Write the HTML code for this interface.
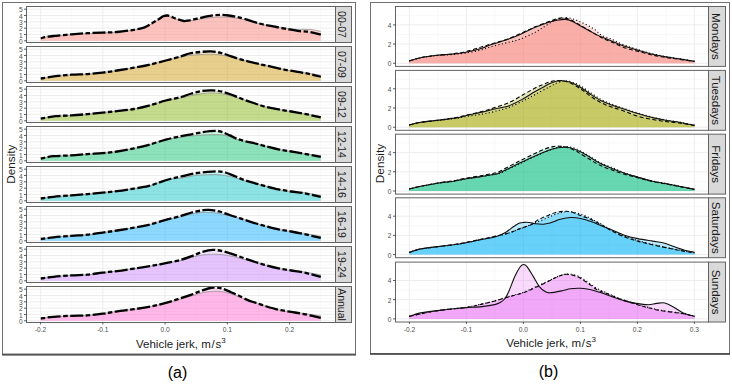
<!DOCTYPE html>
<html><head><meta charset="utf-8"><title>Vehicle jerk density</title>
<style>
html,body{margin:0;padding:0;background:#fff;}
body{width:732px;height:384px;overflow:hidden;font-family:"Liberation Sans", sans-serif;}
svg{display:block;}
</style></head><body>
<svg width="732" height="384" viewBox="0 0 732 384">
<rect x="0" y="0" width="732" height="384" fill="#fff"/>
<rect x="2.5" y="2.5" width="353" height="351.5" fill="none" stroke="#707070" stroke-width="1"/>
<line x1="2" y1="354.8" x2="356" y2="354.8" stroke="#303030" stroke-width="1.3"/>
<rect x="370.5" y="2.5" width="359" height="351" fill="none" stroke="#707070" stroke-width="1"/>
<line x1="370" y1="354.2" x2="730" y2="354.2" stroke="#303030" stroke-width="1.3"/>
<line x1="26.5" y1="37.64" x2="335.5" y2="37.64" stroke="#f4f4f4" stroke-width="0.6"/>
<line x1="26.5" y1="31.32" x2="335.5" y2="31.32" stroke="#f4f4f4" stroke-width="0.6"/>
<line x1="26.5" y1="25" x2="335.5" y2="25" stroke="#f4f4f4" stroke-width="0.6"/>
<line x1="26.5" y1="18.68" x2="335.5" y2="18.68" stroke="#f4f4f4" stroke-width="0.6"/>
<line x1="26.5" y1="12.36" x2="335.5" y2="12.36" stroke="#f4f4f4" stroke-width="0.6"/>
<line x1="71.72" y1="6.5" x2="71.72" y2="42.5" stroke="#f4f4f4" stroke-width="0.6"/>
<line x1="133.97" y1="6.5" x2="133.97" y2="42.5" stroke="#f4f4f4" stroke-width="0.6"/>
<line x1="196.22" y1="6.5" x2="196.22" y2="42.5" stroke="#f4f4f4" stroke-width="0.6"/>
<line x1="258.48" y1="6.5" x2="258.48" y2="42.5" stroke="#f4f4f4" stroke-width="0.6"/>
<line x1="320.73" y1="6.5" x2="320.73" y2="42.5" stroke="#f4f4f4" stroke-width="0.6"/>
<line x1="26.5" y1="40.8" x2="335.5" y2="40.8" stroke="#ebebeb" stroke-width="0.9"/>
<line x1="26.5" y1="34.48" x2="335.5" y2="34.48" stroke="#ebebeb" stroke-width="0.9"/>
<line x1="26.5" y1="28.16" x2="335.5" y2="28.16" stroke="#ebebeb" stroke-width="0.9"/>
<line x1="26.5" y1="21.84" x2="335.5" y2="21.84" stroke="#ebebeb" stroke-width="0.9"/>
<line x1="26.5" y1="15.52" x2="335.5" y2="15.52" stroke="#ebebeb" stroke-width="0.9"/>
<line x1="26.5" y1="9.2" x2="335.5" y2="9.2" stroke="#ebebeb" stroke-width="0.9"/>
<line x1="40.6" y1="6.5" x2="40.6" y2="42.5" stroke="#ebebeb" stroke-width="0.9"/>
<line x1="102.85" y1="6.5" x2="102.85" y2="42.5" stroke="#ebebeb" stroke-width="0.9"/>
<line x1="165.1" y1="6.5" x2="165.1" y2="42.5" stroke="#ebebeb" stroke-width="0.9"/>
<line x1="227.35" y1="6.5" x2="227.35" y2="42.5" stroke="#ebebeb" stroke-width="0.9"/>
<line x1="289.6" y1="6.5" x2="289.6" y2="42.5" stroke="#ebebeb" stroke-width="0.9"/>
<path d="M40.8,38.3C41.87,38.05 44.72,37.22 47.2,36.8C49.68,36.38 51.65,36.22 55.7,35.8C59.75,35.38 66.22,34.73 71.5,34.3C76.78,33.87 82.2,33.48 87.4,33.2C92.6,32.92 97.75,32.8 102.7,32.6C107.65,32.4 111.88,32.47 117.1,32C122.32,31.53 129.42,30.58 134,29.8C138.58,29.02 141.42,28.5 144.6,27.3C147.78,26.1 150.68,23.98 153.1,22.6C155.52,21.22 157.42,20.05 159.1,19C160.78,17.95 161.83,16.88 163.2,16.3C164.57,15.72 165.93,15.42 167.3,15.5C168.67,15.58 169.8,16.22 171.4,16.8C173,17.38 174.85,18.3 176.9,19C178.95,19.7 181.65,20.78 183.7,21C185.75,21.22 186.92,20.7 189.2,20.3C191.48,19.9 194.67,19.2 197.4,18.6C200.13,18 202.87,17.25 205.6,16.7C208.33,16.15 211.07,15.6 213.8,15.3C216.53,15 219.5,14.87 222,14.9C224.5,14.93 226.53,15.2 228.8,15.5C231.07,15.8 232.97,16.13 235.6,16.7C238.23,17.27 240.63,17.77 244.6,18.9C248.57,20.03 254.82,22.28 259.4,23.5C263.98,24.72 267.17,25.22 272.1,26.2C277.03,27.18 284.42,28.58 289,29.4C293.58,30.22 296.07,30.67 299.6,31.1C303.13,31.53 306.67,31.4 310.2,32C313.73,32.6 319.03,34.25 320.8,34.7L320.8,40.8L40.8,40.8Z" fill="#F8766D" fill-opacity="0.2"/>
<path d="M40.8,38.3C41.87,38.05 44.72,37.18 47.2,36.8C49.68,36.42 51.65,36.37 55.7,36C59.75,35.63 66.22,35.02 71.5,34.6C76.78,34.18 82.2,33.8 87.4,33.5C92.6,33.2 97.75,33.02 102.7,32.8C107.65,32.58 111.88,32.67 117.1,32.2C122.32,31.73 129.42,30.78 134,30C138.58,29.22 141.42,28.67 144.6,27.5C147.78,26.33 150.68,24.37 153.1,23C155.52,21.63 157.42,20.35 159.1,19.3C160.78,18.25 161.83,17.25 163.2,16.7C164.57,16.15 165.93,15.92 167.3,16C168.67,16.08 169.8,16.65 171.4,17.2C173,17.75 174.85,18.63 176.9,19.3C178.95,19.97 181.65,20.95 183.7,21.2C185.75,21.45 186.92,21.07 189.2,20.8C191.48,20.53 194.67,20.03 197.4,19.6C200.13,19.17 202.87,18.58 205.6,18.2C208.33,17.82 211.07,17.5 213.8,17.3C216.53,17.1 219.5,17 222,17C224.5,17 226.53,17.13 228.8,17.3C231.07,17.47 232.97,17.58 235.6,18C238.23,18.42 240.63,18.83 244.6,19.8C248.57,20.77 254.82,22.73 259.4,23.8C263.98,24.87 267.17,25.4 272.1,26.2C277.03,27 284.42,28.07 289,28.6C293.58,29.13 296.07,29.27 299.6,29.4C303.13,29.53 306.67,29.07 310.2,29.4C313.73,29.73 319.03,31.07 320.8,31.4L320.8,40.8L40.8,40.8Z" fill="#F8766D" fill-opacity="0.3"/>
<path d="M40.8,38.3C41.87,38.05 44.72,37.18 47.2,36.8C49.68,36.42 51.65,36.37 55.7,36C59.75,35.63 66.22,35.02 71.5,34.6C76.78,34.18 82.2,33.8 87.4,33.5C92.6,33.2 97.75,33.02 102.7,32.8C107.65,32.58 111.88,32.67 117.1,32.2C122.32,31.73 129.42,30.78 134,30C138.58,29.22 141.42,28.67 144.6,27.5C147.78,26.33 150.68,24.37 153.1,23C155.52,21.63 157.42,20.35 159.1,19.3C160.78,18.25 161.83,17.25 163.2,16.7C164.57,16.15 165.93,15.92 167.3,16C168.67,16.08 169.8,16.65 171.4,17.2C173,17.75 174.85,18.63 176.9,19.3C178.95,19.97 181.65,20.95 183.7,21.2C185.75,21.45 186.92,21.07 189.2,20.8C191.48,20.53 194.67,20.03 197.4,19.6C200.13,19.17 202.87,18.58 205.6,18.2C208.33,17.82 211.07,17.5 213.8,17.3C216.53,17.1 219.5,17 222,17C224.5,17 226.53,17.13 228.8,17.3C231.07,17.47 232.97,17.58 235.6,18C238.23,18.42 240.63,18.83 244.6,19.8C248.57,20.77 254.82,22.73 259.4,23.8C263.98,24.87 267.17,25.4 272.1,26.2C277.03,27 284.42,28.07 289,28.6C293.58,29.13 296.07,29.27 299.6,29.4C303.13,29.53 306.67,29.07 310.2,29.4C313.73,29.73 319.03,31.07 320.8,31.4" fill="none" stroke="#8a8a8a" stroke-width="0.7"/>
<path d="M40.8,38.3C41.87,38.05 44.72,37.22 47.2,36.8C49.68,36.38 51.65,36.22 55.7,35.8C59.75,35.38 66.22,34.73 71.5,34.3C76.78,33.87 82.2,33.48 87.4,33.2C92.6,32.92 97.75,32.8 102.7,32.6C107.65,32.4 111.88,32.47 117.1,32C122.32,31.53 129.42,30.58 134,29.8C138.58,29.02 141.42,28.5 144.6,27.3C147.78,26.1 150.68,23.98 153.1,22.6C155.52,21.22 157.42,20.05 159.1,19C160.78,17.95 161.83,16.88 163.2,16.3C164.57,15.72 165.93,15.42 167.3,15.5C168.67,15.58 169.8,16.22 171.4,16.8C173,17.38 174.85,18.3 176.9,19C178.95,19.7 181.65,20.78 183.7,21C185.75,21.22 186.92,20.7 189.2,20.3C191.48,19.9 194.67,19.2 197.4,18.6C200.13,18 202.87,17.25 205.6,16.7C208.33,16.15 211.07,15.6 213.8,15.3C216.53,15 219.5,14.87 222,14.9C224.5,14.93 226.53,15.2 228.8,15.5C231.07,15.8 232.97,16.13 235.6,16.7C238.23,17.27 240.63,17.77 244.6,18.9C248.57,20.03 254.82,22.28 259.4,23.5C263.98,24.72 267.17,25.22 272.1,26.2C277.03,27.18 284.42,28.58 289,29.4C293.58,30.22 296.07,30.67 299.6,31.1C303.13,31.53 306.67,31.4 310.2,32C313.73,32.6 319.03,34.25 320.8,34.7" fill="none" stroke="#000" stroke-width="2.3" stroke-dasharray="4.5 2.5 13 2.5"/>
<rect x="26.5" y="6.5" width="309" height="36" fill="none" stroke="#636363" stroke-width="1"/>
<rect x="335.5" y="6.5" width="16" height="36" fill="#d9d9d9" stroke="#636363" stroke-width="1"/>
<text x="0" y="0" transform="translate(343.5,24.5) rotate(90)" text-anchor="middle" font-family='"Liberation Sans", sans-serif' font-size="10.5" fill="#1a1a1a" dy="5.2">00-07</text>
<line x1="24" y1="40.8" x2="26.5" y2="40.8" stroke="#333" stroke-width="0.8"/>
<text x="22.6" y="43.9" text-anchor="end" font-family='"Liberation Sans", sans-serif' font-size="6.6" fill="#4d4d4d">0</text>
<line x1="24" y1="34.48" x2="26.5" y2="34.48" stroke="#333" stroke-width="0.8"/>
<text x="22.6" y="37.58" text-anchor="end" font-family='"Liberation Sans", sans-serif' font-size="6.6" fill="#4d4d4d">1</text>
<line x1="24" y1="28.16" x2="26.5" y2="28.16" stroke="#333" stroke-width="0.8"/>
<text x="22.6" y="31.26" text-anchor="end" font-family='"Liberation Sans", sans-serif' font-size="6.6" fill="#4d4d4d">2</text>
<line x1="24" y1="21.84" x2="26.5" y2="21.84" stroke="#333" stroke-width="0.8"/>
<text x="22.6" y="24.94" text-anchor="end" font-family='"Liberation Sans", sans-serif' font-size="6.6" fill="#4d4d4d">3</text>
<line x1="24" y1="15.52" x2="26.5" y2="15.52" stroke="#333" stroke-width="0.8"/>
<text x="22.6" y="18.62" text-anchor="end" font-family='"Liberation Sans", sans-serif' font-size="6.6" fill="#4d4d4d">4</text>
<line x1="24" y1="9.2" x2="26.5" y2="9.2" stroke="#333" stroke-width="0.8"/>
<text x="22.6" y="12.3" text-anchor="end" font-family='"Liberation Sans", sans-serif' font-size="6.6" fill="#4d4d4d">5</text>
<line x1="26.5" y1="77.64" x2="335.5" y2="77.64" stroke="#f4f4f4" stroke-width="0.6"/>
<line x1="26.5" y1="71.32" x2="335.5" y2="71.32" stroke="#f4f4f4" stroke-width="0.6"/>
<line x1="26.5" y1="65" x2="335.5" y2="65" stroke="#f4f4f4" stroke-width="0.6"/>
<line x1="26.5" y1="58.68" x2="335.5" y2="58.68" stroke="#f4f4f4" stroke-width="0.6"/>
<line x1="26.5" y1="52.36" x2="335.5" y2="52.36" stroke="#f4f4f4" stroke-width="0.6"/>
<line x1="71.72" y1="46.5" x2="71.72" y2="82.5" stroke="#f4f4f4" stroke-width="0.6"/>
<line x1="133.97" y1="46.5" x2="133.97" y2="82.5" stroke="#f4f4f4" stroke-width="0.6"/>
<line x1="196.22" y1="46.5" x2="196.22" y2="82.5" stroke="#f4f4f4" stroke-width="0.6"/>
<line x1="258.48" y1="46.5" x2="258.48" y2="82.5" stroke="#f4f4f4" stroke-width="0.6"/>
<line x1="320.73" y1="46.5" x2="320.73" y2="82.5" stroke="#f4f4f4" stroke-width="0.6"/>
<line x1="26.5" y1="80.8" x2="335.5" y2="80.8" stroke="#ebebeb" stroke-width="0.9"/>
<line x1="26.5" y1="74.48" x2="335.5" y2="74.48" stroke="#ebebeb" stroke-width="0.9"/>
<line x1="26.5" y1="68.16" x2="335.5" y2="68.16" stroke="#ebebeb" stroke-width="0.9"/>
<line x1="26.5" y1="61.84" x2="335.5" y2="61.84" stroke="#ebebeb" stroke-width="0.9"/>
<line x1="26.5" y1="55.52" x2="335.5" y2="55.52" stroke="#ebebeb" stroke-width="0.9"/>
<line x1="26.5" y1="49.2" x2="335.5" y2="49.2" stroke="#ebebeb" stroke-width="0.9"/>
<line x1="40.6" y1="46.5" x2="40.6" y2="82.5" stroke="#ebebeb" stroke-width="0.9"/>
<line x1="102.85" y1="46.5" x2="102.85" y2="82.5" stroke="#ebebeb" stroke-width="0.9"/>
<line x1="165.1" y1="46.5" x2="165.1" y2="82.5" stroke="#ebebeb" stroke-width="0.9"/>
<line x1="227.35" y1="46.5" x2="227.35" y2="82.5" stroke="#ebebeb" stroke-width="0.9"/>
<line x1="289.6" y1="46.5" x2="289.6" y2="82.5" stroke="#ebebeb" stroke-width="0.9"/>
<path d="M40.8,78.5C43.28,78.12 50.58,76.83 55.7,76.2C60.82,75.57 66.22,75.05 71.5,74.7C76.78,74.35 82.2,74.45 87.4,74.1C92.6,73.75 97.75,73.2 102.7,72.6C107.65,72 111.88,71.32 117.1,70.5C122.32,69.68 128.7,68.65 134,67.7C139.3,66.75 143.6,66 148.9,64.8C154.2,63.6 160.45,61.92 165.8,60.5C171.15,59.08 177.05,57.47 181,56.3C184.95,55.13 186.33,54.22 189.5,53.5C192.67,52.78 196.47,52.35 200,52C203.53,51.65 207.52,51.32 210.7,51.4C213.88,51.48 216.28,51.9 219.1,52.5C221.92,53.1 224.42,53.95 227.6,55C230.78,56.05 234.67,57.7 238.2,58.8C241.73,59.9 245.27,60.72 248.8,61.6C252.33,62.48 255.52,63.22 259.4,64.1C263.28,64.98 267.52,65.9 272.1,66.9C276.68,67.9 282.32,69.22 286.9,70.1C291.48,70.98 295.72,71.53 299.6,72.2C303.48,72.87 306.67,73.33 310.2,74.1C313.73,74.87 319.03,76.35 320.8,76.8L320.8,80.8L40.8,80.8Z" fill="#CD9600" fill-opacity="0.2"/>
<path d="M40.8,78.5C43.28,78.12 50.58,76.83 55.7,76.2C60.82,75.57 66.22,75.05 71.5,74.7C76.78,74.35 82.2,74.45 87.4,74.1C92.6,73.75 97.75,73.2 102.7,72.6C107.65,72 111.88,71.32 117.1,70.5C122.32,69.68 128.7,68.65 134,67.7C139.3,66.75 143.6,66 148.9,64.8C154.2,63.6 160.45,61.8 165.8,60.5C171.15,59.2 177.05,57.83 181,57C184.95,56.17 186.33,55.92 189.5,55.5C192.67,55.08 196.47,54.72 200,54.5C203.53,54.28 207.52,54.15 210.7,54.2C213.88,54.25 216.28,54.45 219.1,54.8C221.92,55.15 224.42,55.63 227.6,56.3C230.78,56.97 234.67,57.92 238.2,58.8C241.73,59.68 245.27,60.72 248.8,61.6C252.33,62.48 255.52,63.22 259.4,64.1C263.28,64.98 267.52,65.9 272.1,66.9C276.68,67.9 282.32,69.22 286.9,70.1C291.48,70.98 295.72,71.63 299.6,72.2C303.48,72.77 306.67,72.97 310.2,73.5C313.73,74.03 319.03,75.08 320.8,75.4L320.8,80.8L40.8,80.8Z" fill="#CD9600" fill-opacity="0.3"/>
<path d="M40.8,78.5C43.28,78.12 50.58,76.83 55.7,76.2C60.82,75.57 66.22,75.05 71.5,74.7C76.78,74.35 82.2,74.45 87.4,74.1C92.6,73.75 97.75,73.2 102.7,72.6C107.65,72 111.88,71.32 117.1,70.5C122.32,69.68 128.7,68.65 134,67.7C139.3,66.75 143.6,66 148.9,64.8C154.2,63.6 160.45,61.8 165.8,60.5C171.15,59.2 177.05,57.83 181,57C184.95,56.17 186.33,55.92 189.5,55.5C192.67,55.08 196.47,54.72 200,54.5C203.53,54.28 207.52,54.15 210.7,54.2C213.88,54.25 216.28,54.45 219.1,54.8C221.92,55.15 224.42,55.63 227.6,56.3C230.78,56.97 234.67,57.92 238.2,58.8C241.73,59.68 245.27,60.72 248.8,61.6C252.33,62.48 255.52,63.22 259.4,64.1C263.28,64.98 267.52,65.9 272.1,66.9C276.68,67.9 282.32,69.22 286.9,70.1C291.48,70.98 295.72,71.63 299.6,72.2C303.48,72.77 306.67,72.97 310.2,73.5C313.73,74.03 319.03,75.08 320.8,75.4" fill="none" stroke="#8a8a8a" stroke-width="0.7"/>
<path d="M40.8,78.5C43.28,78.12 50.58,76.83 55.7,76.2C60.82,75.57 66.22,75.05 71.5,74.7C76.78,74.35 82.2,74.45 87.4,74.1C92.6,73.75 97.75,73.2 102.7,72.6C107.65,72 111.88,71.32 117.1,70.5C122.32,69.68 128.7,68.65 134,67.7C139.3,66.75 143.6,66 148.9,64.8C154.2,63.6 160.45,61.92 165.8,60.5C171.15,59.08 177.05,57.47 181,56.3C184.95,55.13 186.33,54.22 189.5,53.5C192.67,52.78 196.47,52.35 200,52C203.53,51.65 207.52,51.32 210.7,51.4C213.88,51.48 216.28,51.9 219.1,52.5C221.92,53.1 224.42,53.95 227.6,55C230.78,56.05 234.67,57.7 238.2,58.8C241.73,59.9 245.27,60.72 248.8,61.6C252.33,62.48 255.52,63.22 259.4,64.1C263.28,64.98 267.52,65.9 272.1,66.9C276.68,67.9 282.32,69.22 286.9,70.1C291.48,70.98 295.72,71.53 299.6,72.2C303.48,72.87 306.67,73.33 310.2,74.1C313.73,74.87 319.03,76.35 320.8,76.8" fill="none" stroke="#000" stroke-width="2.3" stroke-dasharray="4.5 2.5 13 2.5"/>
<rect x="26.5" y="46.5" width="309" height="36" fill="none" stroke="#636363" stroke-width="1"/>
<rect x="335.5" y="46.5" width="16" height="36" fill="#d9d9d9" stroke="#636363" stroke-width="1"/>
<text x="0" y="0" transform="translate(343.5,64.5) rotate(90)" text-anchor="middle" font-family='"Liberation Sans", sans-serif' font-size="10.5" fill="#1a1a1a" dy="5.2">07-09</text>
<line x1="24" y1="80.8" x2="26.5" y2="80.8" stroke="#333" stroke-width="0.8"/>
<text x="22.6" y="83.9" text-anchor="end" font-family='"Liberation Sans", sans-serif' font-size="6.6" fill="#4d4d4d">0</text>
<line x1="24" y1="74.48" x2="26.5" y2="74.48" stroke="#333" stroke-width="0.8"/>
<text x="22.6" y="77.58" text-anchor="end" font-family='"Liberation Sans", sans-serif' font-size="6.6" fill="#4d4d4d">1</text>
<line x1="24" y1="68.16" x2="26.5" y2="68.16" stroke="#333" stroke-width="0.8"/>
<text x="22.6" y="71.26" text-anchor="end" font-family='"Liberation Sans", sans-serif' font-size="6.6" fill="#4d4d4d">2</text>
<line x1="24" y1="61.84" x2="26.5" y2="61.84" stroke="#333" stroke-width="0.8"/>
<text x="22.6" y="64.94" text-anchor="end" font-family='"Liberation Sans", sans-serif' font-size="6.6" fill="#4d4d4d">3</text>
<line x1="24" y1="55.52" x2="26.5" y2="55.52" stroke="#333" stroke-width="0.8"/>
<text x="22.6" y="58.62" text-anchor="end" font-family='"Liberation Sans", sans-serif' font-size="6.6" fill="#4d4d4d">4</text>
<line x1="24" y1="49.2" x2="26.5" y2="49.2" stroke="#333" stroke-width="0.8"/>
<text x="22.6" y="52.3" text-anchor="end" font-family='"Liberation Sans", sans-serif' font-size="6.6" fill="#4d4d4d">5</text>
<line x1="26.5" y1="117.64" x2="335.5" y2="117.64" stroke="#f4f4f4" stroke-width="0.6"/>
<line x1="26.5" y1="111.32" x2="335.5" y2="111.32" stroke="#f4f4f4" stroke-width="0.6"/>
<line x1="26.5" y1="105" x2="335.5" y2="105" stroke="#f4f4f4" stroke-width="0.6"/>
<line x1="26.5" y1="98.68" x2="335.5" y2="98.68" stroke="#f4f4f4" stroke-width="0.6"/>
<line x1="26.5" y1="92.36" x2="335.5" y2="92.36" stroke="#f4f4f4" stroke-width="0.6"/>
<line x1="71.72" y1="86.5" x2="71.72" y2="122.5" stroke="#f4f4f4" stroke-width="0.6"/>
<line x1="133.97" y1="86.5" x2="133.97" y2="122.5" stroke="#f4f4f4" stroke-width="0.6"/>
<line x1="196.22" y1="86.5" x2="196.22" y2="122.5" stroke="#f4f4f4" stroke-width="0.6"/>
<line x1="258.48" y1="86.5" x2="258.48" y2="122.5" stroke="#f4f4f4" stroke-width="0.6"/>
<line x1="320.73" y1="86.5" x2="320.73" y2="122.5" stroke="#f4f4f4" stroke-width="0.6"/>
<line x1="26.5" y1="120.8" x2="335.5" y2="120.8" stroke="#ebebeb" stroke-width="0.9"/>
<line x1="26.5" y1="114.48" x2="335.5" y2="114.48" stroke="#ebebeb" stroke-width="0.9"/>
<line x1="26.5" y1="108.16" x2="335.5" y2="108.16" stroke="#ebebeb" stroke-width="0.9"/>
<line x1="26.5" y1="101.84" x2="335.5" y2="101.84" stroke="#ebebeb" stroke-width="0.9"/>
<line x1="26.5" y1="95.52" x2="335.5" y2="95.52" stroke="#ebebeb" stroke-width="0.9"/>
<line x1="26.5" y1="89.2" x2="335.5" y2="89.2" stroke="#ebebeb" stroke-width="0.9"/>
<line x1="40.6" y1="86.5" x2="40.6" y2="122.5" stroke="#ebebeb" stroke-width="0.9"/>
<line x1="102.85" y1="86.5" x2="102.85" y2="122.5" stroke="#ebebeb" stroke-width="0.9"/>
<line x1="165.1" y1="86.5" x2="165.1" y2="122.5" stroke="#ebebeb" stroke-width="0.9"/>
<line x1="227.35" y1="86.5" x2="227.35" y2="122.5" stroke="#ebebeb" stroke-width="0.9"/>
<line x1="289.6" y1="86.5" x2="289.6" y2="122.5" stroke="#ebebeb" stroke-width="0.9"/>
<path d="M40.8,118.5C43.28,118.12 50.58,116.72 55.7,116.2C60.82,115.68 66.22,115.75 71.5,115.4C76.78,115.05 82.2,114.57 87.4,114.1C92.6,113.63 97.75,113.1 102.7,112.6C107.65,112.1 111.88,111.7 117.1,111.1C122.32,110.5 128.7,109.92 134,109C139.3,108.08 143.6,107.02 148.9,105.6C154.2,104.18 160.45,101.93 165.8,100.5C171.15,99.07 176.7,98.17 181,97C185.3,95.83 188.07,94.5 191.6,93.5C195.13,92.5 198.67,91.52 202.2,91C205.73,90.48 209.27,90.23 212.8,90.4C216.33,90.57 219.87,91.12 223.4,92C226.93,92.88 230.47,94.38 234,95.7C237.53,97.02 241.07,98.6 244.6,99.9C248.13,101.2 251.68,102.33 255.2,103.5C258.72,104.67 261.82,105.92 265.7,106.9C269.58,107.88 274.25,108.63 278.5,109.4C282.75,110.17 286.97,110.78 291.2,111.5C295.43,112.22 298.97,112.73 303.9,113.7C308.83,114.67 317.98,116.7 320.8,117.3L320.8,120.8L40.8,120.8Z" fill="#7CAE00" fill-opacity="0.2"/>
<path d="M40.8,118.5C43.28,118.12 50.58,116.72 55.7,116.2C60.82,115.68 66.22,115.75 71.5,115.4C76.78,115.05 82.2,114.57 87.4,114.1C92.6,113.63 97.75,113.1 102.7,112.6C107.65,112.1 111.88,111.7 117.1,111.1C122.32,110.5 128.7,109.92 134,109C139.3,108.08 143.6,107.02 148.9,105.6C154.2,104.18 160.45,101.77 165.8,100.5C171.15,99.23 176.7,98.83 181,98C185.3,97.17 188.07,96.23 191.6,95.5C195.13,94.77 198.67,94.03 202.2,93.6C205.73,93.17 209.27,92.83 212.8,92.9C216.33,92.97 219.87,93.35 223.4,94C226.93,94.65 230.47,95.82 234,96.8C237.53,97.78 241.07,98.78 244.6,99.9C248.13,101.02 251.68,102.33 255.2,103.5C258.72,104.67 261.82,105.92 265.7,106.9C269.58,107.88 274.25,108.63 278.5,109.4C282.75,110.17 286.97,110.78 291.2,111.5C295.43,112.22 298.97,112.87 303.9,113.7C308.83,114.53 317.98,116.03 320.8,116.5L320.8,120.8L40.8,120.8Z" fill="#7CAE00" fill-opacity="0.3"/>
<path d="M40.8,118.5C43.28,118.12 50.58,116.72 55.7,116.2C60.82,115.68 66.22,115.75 71.5,115.4C76.78,115.05 82.2,114.57 87.4,114.1C92.6,113.63 97.75,113.1 102.7,112.6C107.65,112.1 111.88,111.7 117.1,111.1C122.32,110.5 128.7,109.92 134,109C139.3,108.08 143.6,107.02 148.9,105.6C154.2,104.18 160.45,101.77 165.8,100.5C171.15,99.23 176.7,98.83 181,98C185.3,97.17 188.07,96.23 191.6,95.5C195.13,94.77 198.67,94.03 202.2,93.6C205.73,93.17 209.27,92.83 212.8,92.9C216.33,92.97 219.87,93.35 223.4,94C226.93,94.65 230.47,95.82 234,96.8C237.53,97.78 241.07,98.78 244.6,99.9C248.13,101.02 251.68,102.33 255.2,103.5C258.72,104.67 261.82,105.92 265.7,106.9C269.58,107.88 274.25,108.63 278.5,109.4C282.75,110.17 286.97,110.78 291.2,111.5C295.43,112.22 298.97,112.87 303.9,113.7C308.83,114.53 317.98,116.03 320.8,116.5" fill="none" stroke="#8a8a8a" stroke-width="0.7"/>
<path d="M40.8,118.5C43.28,118.12 50.58,116.72 55.7,116.2C60.82,115.68 66.22,115.75 71.5,115.4C76.78,115.05 82.2,114.57 87.4,114.1C92.6,113.63 97.75,113.1 102.7,112.6C107.65,112.1 111.88,111.7 117.1,111.1C122.32,110.5 128.7,109.92 134,109C139.3,108.08 143.6,107.02 148.9,105.6C154.2,104.18 160.45,101.93 165.8,100.5C171.15,99.07 176.7,98.17 181,97C185.3,95.83 188.07,94.5 191.6,93.5C195.13,92.5 198.67,91.52 202.2,91C205.73,90.48 209.27,90.23 212.8,90.4C216.33,90.57 219.87,91.12 223.4,92C226.93,92.88 230.47,94.38 234,95.7C237.53,97.02 241.07,98.6 244.6,99.9C248.13,101.2 251.68,102.33 255.2,103.5C258.72,104.67 261.82,105.92 265.7,106.9C269.58,107.88 274.25,108.63 278.5,109.4C282.75,110.17 286.97,110.78 291.2,111.5C295.43,112.22 298.97,112.73 303.9,113.7C308.83,114.67 317.98,116.7 320.8,117.3" fill="none" stroke="#000" stroke-width="2.3" stroke-dasharray="4.5 2.5 13 2.5"/>
<rect x="26.5" y="86.5" width="309" height="36" fill="none" stroke="#636363" stroke-width="1"/>
<rect x="335.5" y="86.5" width="16" height="36" fill="#d9d9d9" stroke="#636363" stroke-width="1"/>
<text x="0" y="0" transform="translate(343.5,104.5) rotate(90)" text-anchor="middle" font-family='"Liberation Sans", sans-serif' font-size="10.5" fill="#1a1a1a" dy="5.2">09-12</text>
<line x1="24" y1="120.8" x2="26.5" y2="120.8" stroke="#333" stroke-width="0.8"/>
<text x="22.6" y="123.9" text-anchor="end" font-family='"Liberation Sans", sans-serif' font-size="6.6" fill="#4d4d4d">0</text>
<line x1="24" y1="114.48" x2="26.5" y2="114.48" stroke="#333" stroke-width="0.8"/>
<text x="22.6" y="117.58" text-anchor="end" font-family='"Liberation Sans", sans-serif' font-size="6.6" fill="#4d4d4d">1</text>
<line x1="24" y1="108.16" x2="26.5" y2="108.16" stroke="#333" stroke-width="0.8"/>
<text x="22.6" y="111.26" text-anchor="end" font-family='"Liberation Sans", sans-serif' font-size="6.6" fill="#4d4d4d">2</text>
<line x1="24" y1="101.84" x2="26.5" y2="101.84" stroke="#333" stroke-width="0.8"/>
<text x="22.6" y="104.94" text-anchor="end" font-family='"Liberation Sans", sans-serif' font-size="6.6" fill="#4d4d4d">3</text>
<line x1="24" y1="95.52" x2="26.5" y2="95.52" stroke="#333" stroke-width="0.8"/>
<text x="22.6" y="98.62" text-anchor="end" font-family='"Liberation Sans", sans-serif' font-size="6.6" fill="#4d4d4d">4</text>
<line x1="24" y1="89.2" x2="26.5" y2="89.2" stroke="#333" stroke-width="0.8"/>
<text x="22.6" y="92.3" text-anchor="end" font-family='"Liberation Sans", sans-serif' font-size="6.6" fill="#4d4d4d">5</text>
<line x1="26.5" y1="157.64" x2="335.5" y2="157.64" stroke="#f4f4f4" stroke-width="0.6"/>
<line x1="26.5" y1="151.32" x2="335.5" y2="151.32" stroke="#f4f4f4" stroke-width="0.6"/>
<line x1="26.5" y1="145" x2="335.5" y2="145" stroke="#f4f4f4" stroke-width="0.6"/>
<line x1="26.5" y1="138.68" x2="335.5" y2="138.68" stroke="#f4f4f4" stroke-width="0.6"/>
<line x1="26.5" y1="132.36" x2="335.5" y2="132.36" stroke="#f4f4f4" stroke-width="0.6"/>
<line x1="71.72" y1="126.5" x2="71.72" y2="162.5" stroke="#f4f4f4" stroke-width="0.6"/>
<line x1="133.97" y1="126.5" x2="133.97" y2="162.5" stroke="#f4f4f4" stroke-width="0.6"/>
<line x1="196.22" y1="126.5" x2="196.22" y2="162.5" stroke="#f4f4f4" stroke-width="0.6"/>
<line x1="258.48" y1="126.5" x2="258.48" y2="162.5" stroke="#f4f4f4" stroke-width="0.6"/>
<line x1="320.73" y1="126.5" x2="320.73" y2="162.5" stroke="#f4f4f4" stroke-width="0.6"/>
<line x1="26.5" y1="160.8" x2="335.5" y2="160.8" stroke="#ebebeb" stroke-width="0.9"/>
<line x1="26.5" y1="154.48" x2="335.5" y2="154.48" stroke="#ebebeb" stroke-width="0.9"/>
<line x1="26.5" y1="148.16" x2="335.5" y2="148.16" stroke="#ebebeb" stroke-width="0.9"/>
<line x1="26.5" y1="141.84" x2="335.5" y2="141.84" stroke="#ebebeb" stroke-width="0.9"/>
<line x1="26.5" y1="135.52" x2="335.5" y2="135.52" stroke="#ebebeb" stroke-width="0.9"/>
<line x1="26.5" y1="129.2" x2="335.5" y2="129.2" stroke="#ebebeb" stroke-width="0.9"/>
<line x1="40.6" y1="126.5" x2="40.6" y2="162.5" stroke="#ebebeb" stroke-width="0.9"/>
<line x1="102.85" y1="126.5" x2="102.85" y2="162.5" stroke="#ebebeb" stroke-width="0.9"/>
<line x1="165.1" y1="126.5" x2="165.1" y2="162.5" stroke="#ebebeb" stroke-width="0.9"/>
<line x1="227.35" y1="126.5" x2="227.35" y2="162.5" stroke="#ebebeb" stroke-width="0.9"/>
<line x1="289.6" y1="126.5" x2="289.6" y2="162.5" stroke="#ebebeb" stroke-width="0.9"/>
<path d="M40.8,158.5C42.92,158.12 48.38,156.72 53.5,156.2C58.62,155.68 65.85,155.75 71.5,155.4C77.15,155.05 82.2,154.47 87.4,154.1C92.6,153.73 97.75,153.63 102.7,153.2C107.65,152.77 111.88,152.3 117.1,151.5C122.32,150.7 128.7,149.52 134,148.4C139.3,147.28 143.6,146.27 148.9,144.8C154.2,143.33 160.45,141.03 165.8,139.6C171.15,138.17 176.7,137.08 181,136.2C185.3,135.32 188.07,134.95 191.6,134.3C195.13,133.65 199.13,132.82 202.2,132.3C205.27,131.78 207.5,131.43 210,131.2C212.5,130.97 215.03,130.72 217.2,130.9C219.37,131.08 220.87,131.55 223,132.3C225.13,133.05 227.67,134.32 230,135.4C232.33,136.48 234.48,137.83 237,138.8C239.52,139.77 242.07,140.42 245.1,141.2C248.13,141.98 251.77,142.67 255.2,143.5C258.63,144.33 261.82,145.22 265.7,146.2C269.58,147.18 274.25,148.52 278.5,149.4C282.75,150.28 286.97,150.78 291.2,151.5C295.43,152.22 298.97,152.82 303.9,153.7C308.83,154.58 317.98,156.28 320.8,156.8L320.8,160.8L40.8,160.8Z" fill="#00BE67" fill-opacity="0.2"/>
<path d="M40.8,158.5C42.92,158.12 48.38,156.72 53.5,156.2C58.62,155.68 65.85,155.75 71.5,155.4C77.15,155.05 82.2,154.47 87.4,154.1C92.6,153.73 97.75,153.63 102.7,153.2C107.65,152.77 111.88,152.3 117.1,151.5C122.32,150.7 128.7,149.52 134,148.4C139.3,147.28 143.6,146.27 148.9,144.8C154.2,143.33 160.45,140.85 165.8,139.6C171.15,138.35 176.7,137.9 181,137.3C185.3,136.7 188.07,136.38 191.6,136C195.13,135.62 199.13,135.22 202.2,135C205.27,134.78 207.5,134.77 210,134.7C212.5,134.63 215.03,134.55 217.2,134.6C219.37,134.65 220.87,134.63 223,135C225.13,135.37 227.67,136.05 230,136.8C232.33,137.55 234.48,138.77 237,139.5C239.52,140.23 242.07,140.53 245.1,141.2C248.13,141.87 251.77,142.67 255.2,143.5C258.63,144.33 261.82,145.22 265.7,146.2C269.58,147.18 274.25,148.52 278.5,149.4C282.75,150.28 286.97,150.78 291.2,151.5C295.43,152.22 298.97,153.02 303.9,153.7C308.83,154.38 317.98,155.28 320.8,155.6L320.8,160.8L40.8,160.8Z" fill="#00BE67" fill-opacity="0.3"/>
<path d="M40.8,158.5C42.92,158.12 48.38,156.72 53.5,156.2C58.62,155.68 65.85,155.75 71.5,155.4C77.15,155.05 82.2,154.47 87.4,154.1C92.6,153.73 97.75,153.63 102.7,153.2C107.65,152.77 111.88,152.3 117.1,151.5C122.32,150.7 128.7,149.52 134,148.4C139.3,147.28 143.6,146.27 148.9,144.8C154.2,143.33 160.45,140.85 165.8,139.6C171.15,138.35 176.7,137.9 181,137.3C185.3,136.7 188.07,136.38 191.6,136C195.13,135.62 199.13,135.22 202.2,135C205.27,134.78 207.5,134.77 210,134.7C212.5,134.63 215.03,134.55 217.2,134.6C219.37,134.65 220.87,134.63 223,135C225.13,135.37 227.67,136.05 230,136.8C232.33,137.55 234.48,138.77 237,139.5C239.52,140.23 242.07,140.53 245.1,141.2C248.13,141.87 251.77,142.67 255.2,143.5C258.63,144.33 261.82,145.22 265.7,146.2C269.58,147.18 274.25,148.52 278.5,149.4C282.75,150.28 286.97,150.78 291.2,151.5C295.43,152.22 298.97,153.02 303.9,153.7C308.83,154.38 317.98,155.28 320.8,155.6" fill="none" stroke="#8a8a8a" stroke-width="0.7"/>
<path d="M40.8,158.5C42.92,158.12 48.38,156.72 53.5,156.2C58.62,155.68 65.85,155.75 71.5,155.4C77.15,155.05 82.2,154.47 87.4,154.1C92.6,153.73 97.75,153.63 102.7,153.2C107.65,152.77 111.88,152.3 117.1,151.5C122.32,150.7 128.7,149.52 134,148.4C139.3,147.28 143.6,146.27 148.9,144.8C154.2,143.33 160.45,141.03 165.8,139.6C171.15,138.17 176.7,137.08 181,136.2C185.3,135.32 188.07,134.95 191.6,134.3C195.13,133.65 199.13,132.82 202.2,132.3C205.27,131.78 207.5,131.43 210,131.2C212.5,130.97 215.03,130.72 217.2,130.9C219.37,131.08 220.87,131.55 223,132.3C225.13,133.05 227.67,134.32 230,135.4C232.33,136.48 234.48,137.83 237,138.8C239.52,139.77 242.07,140.42 245.1,141.2C248.13,141.98 251.77,142.67 255.2,143.5C258.63,144.33 261.82,145.22 265.7,146.2C269.58,147.18 274.25,148.52 278.5,149.4C282.75,150.28 286.97,150.78 291.2,151.5C295.43,152.22 298.97,152.82 303.9,153.7C308.83,154.58 317.98,156.28 320.8,156.8" fill="none" stroke="#000" stroke-width="2.3" stroke-dasharray="4.5 2.5 13 2.5"/>
<rect x="26.5" y="126.5" width="309" height="36" fill="none" stroke="#636363" stroke-width="1"/>
<rect x="335.5" y="126.5" width="16" height="36" fill="#d9d9d9" stroke="#636363" stroke-width="1"/>
<text x="0" y="0" transform="translate(343.5,144.5) rotate(90)" text-anchor="middle" font-family='"Liberation Sans", sans-serif' font-size="10.5" fill="#1a1a1a" dy="5.2">12-14</text>
<line x1="24" y1="160.8" x2="26.5" y2="160.8" stroke="#333" stroke-width="0.8"/>
<text x="22.6" y="163.9" text-anchor="end" font-family='"Liberation Sans", sans-serif' font-size="6.6" fill="#4d4d4d">0</text>
<line x1="24" y1="154.48" x2="26.5" y2="154.48" stroke="#333" stroke-width="0.8"/>
<text x="22.6" y="157.58" text-anchor="end" font-family='"Liberation Sans", sans-serif' font-size="6.6" fill="#4d4d4d">1</text>
<line x1="24" y1="148.16" x2="26.5" y2="148.16" stroke="#333" stroke-width="0.8"/>
<text x="22.6" y="151.26" text-anchor="end" font-family='"Liberation Sans", sans-serif' font-size="6.6" fill="#4d4d4d">2</text>
<line x1="24" y1="141.84" x2="26.5" y2="141.84" stroke="#333" stroke-width="0.8"/>
<text x="22.6" y="144.94" text-anchor="end" font-family='"Liberation Sans", sans-serif' font-size="6.6" fill="#4d4d4d">3</text>
<line x1="24" y1="135.52" x2="26.5" y2="135.52" stroke="#333" stroke-width="0.8"/>
<text x="22.6" y="138.62" text-anchor="end" font-family='"Liberation Sans", sans-serif' font-size="6.6" fill="#4d4d4d">4</text>
<line x1="24" y1="129.2" x2="26.5" y2="129.2" stroke="#333" stroke-width="0.8"/>
<text x="22.6" y="132.3" text-anchor="end" font-family='"Liberation Sans", sans-serif' font-size="6.6" fill="#4d4d4d">5</text>
<line x1="26.5" y1="197.64" x2="335.5" y2="197.64" stroke="#f4f4f4" stroke-width="0.6"/>
<line x1="26.5" y1="191.32" x2="335.5" y2="191.32" stroke="#f4f4f4" stroke-width="0.6"/>
<line x1="26.5" y1="185" x2="335.5" y2="185" stroke="#f4f4f4" stroke-width="0.6"/>
<line x1="26.5" y1="178.68" x2="335.5" y2="178.68" stroke="#f4f4f4" stroke-width="0.6"/>
<line x1="26.5" y1="172.36" x2="335.5" y2="172.36" stroke="#f4f4f4" stroke-width="0.6"/>
<line x1="71.72" y1="166.5" x2="71.72" y2="202.5" stroke="#f4f4f4" stroke-width="0.6"/>
<line x1="133.97" y1="166.5" x2="133.97" y2="202.5" stroke="#f4f4f4" stroke-width="0.6"/>
<line x1="196.22" y1="166.5" x2="196.22" y2="202.5" stroke="#f4f4f4" stroke-width="0.6"/>
<line x1="258.48" y1="166.5" x2="258.48" y2="202.5" stroke="#f4f4f4" stroke-width="0.6"/>
<line x1="320.73" y1="166.5" x2="320.73" y2="202.5" stroke="#f4f4f4" stroke-width="0.6"/>
<line x1="26.5" y1="200.8" x2="335.5" y2="200.8" stroke="#ebebeb" stroke-width="0.9"/>
<line x1="26.5" y1="194.48" x2="335.5" y2="194.48" stroke="#ebebeb" stroke-width="0.9"/>
<line x1="26.5" y1="188.16" x2="335.5" y2="188.16" stroke="#ebebeb" stroke-width="0.9"/>
<line x1="26.5" y1="181.84" x2="335.5" y2="181.84" stroke="#ebebeb" stroke-width="0.9"/>
<line x1="26.5" y1="175.52" x2="335.5" y2="175.52" stroke="#ebebeb" stroke-width="0.9"/>
<line x1="26.5" y1="169.2" x2="335.5" y2="169.2" stroke="#ebebeb" stroke-width="0.9"/>
<line x1="40.6" y1="166.5" x2="40.6" y2="202.5" stroke="#ebebeb" stroke-width="0.9"/>
<line x1="102.85" y1="166.5" x2="102.85" y2="202.5" stroke="#ebebeb" stroke-width="0.9"/>
<line x1="165.1" y1="166.5" x2="165.1" y2="202.5" stroke="#ebebeb" stroke-width="0.9"/>
<line x1="227.35" y1="166.5" x2="227.35" y2="202.5" stroke="#ebebeb" stroke-width="0.9"/>
<line x1="289.6" y1="166.5" x2="289.6" y2="202.5" stroke="#ebebeb" stroke-width="0.9"/>
<path d="M40.8,198.5C42.92,198.22 48.38,197.32 53.5,196.8C58.62,196.28 65.85,195.85 71.5,195.4C77.15,194.95 82.2,194.57 87.4,194.1C92.6,193.63 97.75,193.1 102.7,192.6C107.65,192.1 111.88,191.77 117.1,191.1C122.32,190.43 128.85,189.42 134,188.6C139.15,187.78 143.75,187.25 148,186.2C152.25,185.15 155.83,183.5 159.5,182.3C163.17,181.1 166.42,179.97 170,179C173.58,178.03 176.95,177.42 181,176.5C185.05,175.58 189.9,174.27 194.3,173.5C198.7,172.73 203.58,172.25 207.4,171.9C211.22,171.55 214.2,171.3 217.2,171.4C220.2,171.5 222.4,171.68 225.4,172.5C228.4,173.32 231.92,174.98 235.2,176.3C238.48,177.62 241.77,179.23 245.1,180.4C248.43,181.57 251.77,182.33 255.2,183.3C258.63,184.27 261.82,185.18 265.7,186.2C269.58,187.22 274.25,188.52 278.5,189.4C282.75,190.28 286.97,190.87 291.2,191.5C295.43,192.13 298.97,192.32 303.9,193.2C308.83,194.08 317.98,196.2 320.8,196.8L320.8,200.8L40.8,200.8Z" fill="#00BFC4" fill-opacity="0.2"/>
<path d="M40.8,198.5C42.92,198.22 48.38,197.32 53.5,196.8C58.62,196.28 65.85,195.85 71.5,195.4C77.15,194.95 82.2,194.57 87.4,194.1C92.6,193.63 97.75,193.1 102.7,192.6C107.65,192.1 111.88,191.77 117.1,191.1C122.32,190.43 128.85,189.42 134,188.6C139.15,187.78 143.75,187.25 148,186.2C152.25,185.15 155.83,183.5 159.5,182.3C163.17,181.1 166.42,179.68 170,179C173.58,178.32 176.95,178.77 181,178.2C185.05,177.63 189.9,176.18 194.3,175.6C198.7,175.02 203.58,174.87 207.4,174.7C211.22,174.53 214.2,174.45 217.2,174.6C220.2,174.75 222.4,175.07 225.4,175.6C228.4,176.13 231.92,176.9 235.2,177.8C238.48,178.7 241.77,180.08 245.1,181C248.43,181.92 251.77,182.43 255.2,183.3C258.63,184.17 261.82,185.18 265.7,186.2C269.58,187.22 274.25,188.52 278.5,189.4C282.75,190.28 286.97,190.97 291.2,191.5C295.43,192.03 298.97,191.95 303.9,192.6C308.83,193.25 317.98,194.93 320.8,195.4L320.8,200.8L40.8,200.8Z" fill="#00BFC4" fill-opacity="0.3"/>
<path d="M40.8,198.5C42.92,198.22 48.38,197.32 53.5,196.8C58.62,196.28 65.85,195.85 71.5,195.4C77.15,194.95 82.2,194.57 87.4,194.1C92.6,193.63 97.75,193.1 102.7,192.6C107.65,192.1 111.88,191.77 117.1,191.1C122.32,190.43 128.85,189.42 134,188.6C139.15,187.78 143.75,187.25 148,186.2C152.25,185.15 155.83,183.5 159.5,182.3C163.17,181.1 166.42,179.68 170,179C173.58,178.32 176.95,178.77 181,178.2C185.05,177.63 189.9,176.18 194.3,175.6C198.7,175.02 203.58,174.87 207.4,174.7C211.22,174.53 214.2,174.45 217.2,174.6C220.2,174.75 222.4,175.07 225.4,175.6C228.4,176.13 231.92,176.9 235.2,177.8C238.48,178.7 241.77,180.08 245.1,181C248.43,181.92 251.77,182.43 255.2,183.3C258.63,184.17 261.82,185.18 265.7,186.2C269.58,187.22 274.25,188.52 278.5,189.4C282.75,190.28 286.97,190.97 291.2,191.5C295.43,192.03 298.97,191.95 303.9,192.6C308.83,193.25 317.98,194.93 320.8,195.4" fill="none" stroke="#8a8a8a" stroke-width="0.7"/>
<path d="M40.8,198.5C42.92,198.22 48.38,197.32 53.5,196.8C58.62,196.28 65.85,195.85 71.5,195.4C77.15,194.95 82.2,194.57 87.4,194.1C92.6,193.63 97.75,193.1 102.7,192.6C107.65,192.1 111.88,191.77 117.1,191.1C122.32,190.43 128.85,189.42 134,188.6C139.15,187.78 143.75,187.25 148,186.2C152.25,185.15 155.83,183.5 159.5,182.3C163.17,181.1 166.42,179.97 170,179C173.58,178.03 176.95,177.42 181,176.5C185.05,175.58 189.9,174.27 194.3,173.5C198.7,172.73 203.58,172.25 207.4,171.9C211.22,171.55 214.2,171.3 217.2,171.4C220.2,171.5 222.4,171.68 225.4,172.5C228.4,173.32 231.92,174.98 235.2,176.3C238.48,177.62 241.77,179.23 245.1,180.4C248.43,181.57 251.77,182.33 255.2,183.3C258.63,184.27 261.82,185.18 265.7,186.2C269.58,187.22 274.25,188.52 278.5,189.4C282.75,190.28 286.97,190.87 291.2,191.5C295.43,192.13 298.97,192.32 303.9,193.2C308.83,194.08 317.98,196.2 320.8,196.8" fill="none" stroke="#000" stroke-width="2.3" stroke-dasharray="4.5 2.5 13 2.5"/>
<rect x="26.5" y="166.5" width="309" height="36" fill="none" stroke="#636363" stroke-width="1"/>
<rect x="335.5" y="166.5" width="16" height="36" fill="#d9d9d9" stroke="#636363" stroke-width="1"/>
<text x="0" y="0" transform="translate(343.5,184.5) rotate(90)" text-anchor="middle" font-family='"Liberation Sans", sans-serif' font-size="10.5" fill="#1a1a1a" dy="5.2">14-16</text>
<line x1="24" y1="200.8" x2="26.5" y2="200.8" stroke="#333" stroke-width="0.8"/>
<text x="22.6" y="203.9" text-anchor="end" font-family='"Liberation Sans", sans-serif' font-size="6.6" fill="#4d4d4d">0</text>
<line x1="24" y1="194.48" x2="26.5" y2="194.48" stroke="#333" stroke-width="0.8"/>
<text x="22.6" y="197.58" text-anchor="end" font-family='"Liberation Sans", sans-serif' font-size="6.6" fill="#4d4d4d">1</text>
<line x1="24" y1="188.16" x2="26.5" y2="188.16" stroke="#333" stroke-width="0.8"/>
<text x="22.6" y="191.26" text-anchor="end" font-family='"Liberation Sans", sans-serif' font-size="6.6" fill="#4d4d4d">2</text>
<line x1="24" y1="181.84" x2="26.5" y2="181.84" stroke="#333" stroke-width="0.8"/>
<text x="22.6" y="184.94" text-anchor="end" font-family='"Liberation Sans", sans-serif' font-size="6.6" fill="#4d4d4d">3</text>
<line x1="24" y1="175.52" x2="26.5" y2="175.52" stroke="#333" stroke-width="0.8"/>
<text x="22.6" y="178.62" text-anchor="end" font-family='"Liberation Sans", sans-serif' font-size="6.6" fill="#4d4d4d">4</text>
<line x1="24" y1="169.2" x2="26.5" y2="169.2" stroke="#333" stroke-width="0.8"/>
<text x="22.6" y="172.3" text-anchor="end" font-family='"Liberation Sans", sans-serif' font-size="6.6" fill="#4d4d4d">5</text>
<line x1="26.5" y1="237.64" x2="335.5" y2="237.64" stroke="#f4f4f4" stroke-width="0.6"/>
<line x1="26.5" y1="231.32" x2="335.5" y2="231.32" stroke="#f4f4f4" stroke-width="0.6"/>
<line x1="26.5" y1="225" x2="335.5" y2="225" stroke="#f4f4f4" stroke-width="0.6"/>
<line x1="26.5" y1="218.68" x2="335.5" y2="218.68" stroke="#f4f4f4" stroke-width="0.6"/>
<line x1="26.5" y1="212.36" x2="335.5" y2="212.36" stroke="#f4f4f4" stroke-width="0.6"/>
<line x1="71.72" y1="206.5" x2="71.72" y2="242.5" stroke="#f4f4f4" stroke-width="0.6"/>
<line x1="133.97" y1="206.5" x2="133.97" y2="242.5" stroke="#f4f4f4" stroke-width="0.6"/>
<line x1="196.22" y1="206.5" x2="196.22" y2="242.5" stroke="#f4f4f4" stroke-width="0.6"/>
<line x1="258.48" y1="206.5" x2="258.48" y2="242.5" stroke="#f4f4f4" stroke-width="0.6"/>
<line x1="320.73" y1="206.5" x2="320.73" y2="242.5" stroke="#f4f4f4" stroke-width="0.6"/>
<line x1="26.5" y1="240.8" x2="335.5" y2="240.8" stroke="#ebebeb" stroke-width="0.9"/>
<line x1="26.5" y1="234.48" x2="335.5" y2="234.48" stroke="#ebebeb" stroke-width="0.9"/>
<line x1="26.5" y1="228.16" x2="335.5" y2="228.16" stroke="#ebebeb" stroke-width="0.9"/>
<line x1="26.5" y1="221.84" x2="335.5" y2="221.84" stroke="#ebebeb" stroke-width="0.9"/>
<line x1="26.5" y1="215.52" x2="335.5" y2="215.52" stroke="#ebebeb" stroke-width="0.9"/>
<line x1="26.5" y1="209.2" x2="335.5" y2="209.2" stroke="#ebebeb" stroke-width="0.9"/>
<line x1="40.6" y1="206.5" x2="40.6" y2="242.5" stroke="#ebebeb" stroke-width="0.9"/>
<line x1="102.85" y1="206.5" x2="102.85" y2="242.5" stroke="#ebebeb" stroke-width="0.9"/>
<line x1="165.1" y1="206.5" x2="165.1" y2="242.5" stroke="#ebebeb" stroke-width="0.9"/>
<line x1="227.35" y1="206.5" x2="227.35" y2="242.5" stroke="#ebebeb" stroke-width="0.9"/>
<line x1="289.6" y1="206.5" x2="289.6" y2="242.5" stroke="#ebebeb" stroke-width="0.9"/>
<path d="M40.8,239C42.92,238.72 48.38,237.83 53.5,237.3C58.62,236.77 65.85,236.23 71.5,235.8C77.15,235.37 82.2,235.23 87.4,234.7C92.6,234.17 97.75,233.3 102.7,232.6C107.65,231.9 111.88,231.32 117.1,230.5C122.32,229.68 128.7,228.65 134,227.7C139.3,226.75 143.6,226.1 148.9,224.8C154.2,223.5 160.45,221.38 165.8,219.9C171.15,218.42 176.7,217.13 181,215.9C185.3,214.67 188.07,213.42 191.6,212.5C195.13,211.58 199.38,210.83 202.2,210.4C205.02,209.97 205.68,209.73 208.5,209.9C211.32,210.07 215.57,210.55 219.1,211.4C222.63,212.25 226.17,213.83 229.7,215C233.23,216.17 236.42,217.13 240.3,218.4C244.18,219.67 248.77,221.3 253,222.6C257.23,223.9 261.45,225.07 265.7,226.2C269.95,227.33 274.25,228.52 278.5,229.4C282.75,230.28 286.97,230.72 291.2,231.5C295.43,232.28 298.97,233.03 303.9,234.1C308.83,235.17 317.98,237.27 320.8,237.9L320.8,240.8L40.8,240.8Z" fill="#00A9FF" fill-opacity="0.2"/>
<path d="M40.8,239C42.92,238.72 48.38,237.83 53.5,237.3C58.62,236.77 65.85,236.23 71.5,235.8C77.15,235.37 82.2,235.23 87.4,234.7C92.6,234.17 97.75,233.3 102.7,232.6C107.65,231.9 111.88,231.32 117.1,230.5C122.32,229.68 128.7,228.65 134,227.7C139.3,226.75 143.6,226.1 148.9,224.8C154.2,223.5 160.45,221.23 165.8,219.9C171.15,218.57 176.7,217.78 181,216.8C185.3,215.82 188.07,214.7 191.6,214C195.13,213.3 199.38,212.85 202.2,212.6C205.02,212.35 205.68,212.37 208.5,212.5C211.32,212.63 215.57,212.82 219.1,213.4C222.63,213.98 226.17,215.17 229.7,216C233.23,216.83 236.42,217.3 240.3,218.4C244.18,219.5 248.77,221.3 253,222.6C257.23,223.9 261.45,225.07 265.7,226.2C269.95,227.33 274.25,228.52 278.5,229.4C282.75,230.28 286.97,230.83 291.2,231.5C295.43,232.17 298.97,232.62 303.9,233.4C308.83,234.18 317.98,235.73 320.8,236.2L320.8,240.8L40.8,240.8Z" fill="#00A9FF" fill-opacity="0.3"/>
<path d="M40.8,239C42.92,238.72 48.38,237.83 53.5,237.3C58.62,236.77 65.85,236.23 71.5,235.8C77.15,235.37 82.2,235.23 87.4,234.7C92.6,234.17 97.75,233.3 102.7,232.6C107.65,231.9 111.88,231.32 117.1,230.5C122.32,229.68 128.7,228.65 134,227.7C139.3,226.75 143.6,226.1 148.9,224.8C154.2,223.5 160.45,221.23 165.8,219.9C171.15,218.57 176.7,217.78 181,216.8C185.3,215.82 188.07,214.7 191.6,214C195.13,213.3 199.38,212.85 202.2,212.6C205.02,212.35 205.68,212.37 208.5,212.5C211.32,212.63 215.57,212.82 219.1,213.4C222.63,213.98 226.17,215.17 229.7,216C233.23,216.83 236.42,217.3 240.3,218.4C244.18,219.5 248.77,221.3 253,222.6C257.23,223.9 261.45,225.07 265.7,226.2C269.95,227.33 274.25,228.52 278.5,229.4C282.75,230.28 286.97,230.83 291.2,231.5C295.43,232.17 298.97,232.62 303.9,233.4C308.83,234.18 317.98,235.73 320.8,236.2" fill="none" stroke="#8a8a8a" stroke-width="0.7"/>
<path d="M40.8,239C42.92,238.72 48.38,237.83 53.5,237.3C58.62,236.77 65.85,236.23 71.5,235.8C77.15,235.37 82.2,235.23 87.4,234.7C92.6,234.17 97.75,233.3 102.7,232.6C107.65,231.9 111.88,231.32 117.1,230.5C122.32,229.68 128.7,228.65 134,227.7C139.3,226.75 143.6,226.1 148.9,224.8C154.2,223.5 160.45,221.38 165.8,219.9C171.15,218.42 176.7,217.13 181,215.9C185.3,214.67 188.07,213.42 191.6,212.5C195.13,211.58 199.38,210.83 202.2,210.4C205.02,209.97 205.68,209.73 208.5,209.9C211.32,210.07 215.57,210.55 219.1,211.4C222.63,212.25 226.17,213.83 229.7,215C233.23,216.17 236.42,217.13 240.3,218.4C244.18,219.67 248.77,221.3 253,222.6C257.23,223.9 261.45,225.07 265.7,226.2C269.95,227.33 274.25,228.52 278.5,229.4C282.75,230.28 286.97,230.72 291.2,231.5C295.43,232.28 298.97,233.03 303.9,234.1C308.83,235.17 317.98,237.27 320.8,237.9" fill="none" stroke="#000" stroke-width="2.3" stroke-dasharray="4.5 2.5 13 2.5"/>
<rect x="26.5" y="206.5" width="309" height="36" fill="none" stroke="#636363" stroke-width="1"/>
<rect x="335.5" y="206.5" width="16" height="36" fill="#d9d9d9" stroke="#636363" stroke-width="1"/>
<text x="0" y="0" transform="translate(343.5,224.5) rotate(90)" text-anchor="middle" font-family='"Liberation Sans", sans-serif' font-size="10.5" fill="#1a1a1a" dy="5.2">16-19</text>
<line x1="24" y1="240.8" x2="26.5" y2="240.8" stroke="#333" stroke-width="0.8"/>
<text x="22.6" y="243.9" text-anchor="end" font-family='"Liberation Sans", sans-serif' font-size="6.6" fill="#4d4d4d">0</text>
<line x1="24" y1="234.48" x2="26.5" y2="234.48" stroke="#333" stroke-width="0.8"/>
<text x="22.6" y="237.58" text-anchor="end" font-family='"Liberation Sans", sans-serif' font-size="6.6" fill="#4d4d4d">1</text>
<line x1="24" y1="228.16" x2="26.5" y2="228.16" stroke="#333" stroke-width="0.8"/>
<text x="22.6" y="231.26" text-anchor="end" font-family='"Liberation Sans", sans-serif' font-size="6.6" fill="#4d4d4d">2</text>
<line x1="24" y1="221.84" x2="26.5" y2="221.84" stroke="#333" stroke-width="0.8"/>
<text x="22.6" y="224.94" text-anchor="end" font-family='"Liberation Sans", sans-serif' font-size="6.6" fill="#4d4d4d">3</text>
<line x1="24" y1="215.52" x2="26.5" y2="215.52" stroke="#333" stroke-width="0.8"/>
<text x="22.6" y="218.62" text-anchor="end" font-family='"Liberation Sans", sans-serif' font-size="6.6" fill="#4d4d4d">4</text>
<line x1="24" y1="209.2" x2="26.5" y2="209.2" stroke="#333" stroke-width="0.8"/>
<text x="22.6" y="212.3" text-anchor="end" font-family='"Liberation Sans", sans-serif' font-size="6.6" fill="#4d4d4d">5</text>
<line x1="26.5" y1="277.64" x2="335.5" y2="277.64" stroke="#f4f4f4" stroke-width="0.6"/>
<line x1="26.5" y1="271.32" x2="335.5" y2="271.32" stroke="#f4f4f4" stroke-width="0.6"/>
<line x1="26.5" y1="265" x2="335.5" y2="265" stroke="#f4f4f4" stroke-width="0.6"/>
<line x1="26.5" y1="258.68" x2="335.5" y2="258.68" stroke="#f4f4f4" stroke-width="0.6"/>
<line x1="26.5" y1="252.36" x2="335.5" y2="252.36" stroke="#f4f4f4" stroke-width="0.6"/>
<line x1="71.72" y1="246.5" x2="71.72" y2="282.5" stroke="#f4f4f4" stroke-width="0.6"/>
<line x1="133.97" y1="246.5" x2="133.97" y2="282.5" stroke="#f4f4f4" stroke-width="0.6"/>
<line x1="196.22" y1="246.5" x2="196.22" y2="282.5" stroke="#f4f4f4" stroke-width="0.6"/>
<line x1="258.48" y1="246.5" x2="258.48" y2="282.5" stroke="#f4f4f4" stroke-width="0.6"/>
<line x1="320.73" y1="246.5" x2="320.73" y2="282.5" stroke="#f4f4f4" stroke-width="0.6"/>
<line x1="26.5" y1="280.8" x2="335.5" y2="280.8" stroke="#ebebeb" stroke-width="0.9"/>
<line x1="26.5" y1="274.48" x2="335.5" y2="274.48" stroke="#ebebeb" stroke-width="0.9"/>
<line x1="26.5" y1="268.16" x2="335.5" y2="268.16" stroke="#ebebeb" stroke-width="0.9"/>
<line x1="26.5" y1="261.84" x2="335.5" y2="261.84" stroke="#ebebeb" stroke-width="0.9"/>
<line x1="26.5" y1="255.52" x2="335.5" y2="255.52" stroke="#ebebeb" stroke-width="0.9"/>
<line x1="26.5" y1="249.2" x2="335.5" y2="249.2" stroke="#ebebeb" stroke-width="0.9"/>
<line x1="40.6" y1="246.5" x2="40.6" y2="282.5" stroke="#ebebeb" stroke-width="0.9"/>
<line x1="102.85" y1="246.5" x2="102.85" y2="282.5" stroke="#ebebeb" stroke-width="0.9"/>
<line x1="165.1" y1="246.5" x2="165.1" y2="282.5" stroke="#ebebeb" stroke-width="0.9"/>
<line x1="227.35" y1="246.5" x2="227.35" y2="282.5" stroke="#ebebeb" stroke-width="0.9"/>
<line x1="289.6" y1="246.5" x2="289.6" y2="282.5" stroke="#ebebeb" stroke-width="0.9"/>
<path d="M40.8,278.5C42.92,278.22 48.38,277.32 53.5,276.8C58.62,276.28 65.85,275.75 71.5,275.4C77.15,275.05 82.2,275.17 87.4,274.7C92.6,274.23 97.75,273.2 102.7,272.6C107.65,272 111.88,271.77 117.1,271.1C122.32,270.43 128.27,269.47 134,268.6C139.73,267.73 146.2,266.82 151.5,265.9C156.8,264.98 160.88,264.12 165.8,263.1C170.72,262.08 176.7,260.95 181,259.8C185.3,258.65 188.07,257.5 191.6,256.2C195.13,254.9 198.67,253.05 202.2,252C205.73,250.95 209.27,250 212.8,249.9C216.33,249.8 219.87,250.62 223.4,251.4C226.93,252.18 230.47,253.43 234,254.6C237.53,255.77 241.07,257.17 244.6,258.4C248.13,259.63 251.68,260.87 255.2,262C258.72,263.13 261.82,264.13 265.7,265.2C269.58,266.27 274.25,267.52 278.5,268.4C282.75,269.28 286.97,269.8 291.2,270.5C295.43,271.2 298.97,271.55 303.9,272.6C308.83,273.65 317.98,276.1 320.8,276.8L320.8,280.8L40.8,280.8Z" fill="#C77CFF" fill-opacity="0.2"/>
<path d="M40.8,278.5C42.92,278.22 48.38,277.32 53.5,276.8C58.62,276.28 65.85,275.75 71.5,275.4C77.15,275.05 82.2,275.17 87.4,274.7C92.6,274.23 97.75,273.2 102.7,272.6C107.65,272 111.88,271.77 117.1,271.1C122.32,270.43 128.27,269.47 134,268.6C139.73,267.73 146.2,266.82 151.5,265.9C156.8,264.98 160.88,264 165.8,263.1C170.72,262.2 176.7,261.43 181,260.5C185.3,259.57 188.07,258.42 191.6,257.5C195.13,256.58 198.67,255.55 202.2,255C205.73,254.45 209.27,254.23 212.8,254.2C216.33,254.17 219.87,254.37 223.4,254.8C226.93,255.23 230.47,256.02 234,256.8C237.53,257.58 241.07,258.63 244.6,259.5C248.13,260.37 251.68,261.05 255.2,262C258.72,262.95 261.82,264.13 265.7,265.2C269.58,266.27 274.25,267.52 278.5,268.4C282.75,269.28 286.97,269.9 291.2,270.5C295.43,271.1 298.97,271.3 303.9,272C308.83,272.7 317.98,274.25 320.8,274.7L320.8,280.8L40.8,280.8Z" fill="#C77CFF" fill-opacity="0.3"/>
<path d="M40.8,278.5C42.92,278.22 48.38,277.32 53.5,276.8C58.62,276.28 65.85,275.75 71.5,275.4C77.15,275.05 82.2,275.17 87.4,274.7C92.6,274.23 97.75,273.2 102.7,272.6C107.65,272 111.88,271.77 117.1,271.1C122.32,270.43 128.27,269.47 134,268.6C139.73,267.73 146.2,266.82 151.5,265.9C156.8,264.98 160.88,264 165.8,263.1C170.72,262.2 176.7,261.43 181,260.5C185.3,259.57 188.07,258.42 191.6,257.5C195.13,256.58 198.67,255.55 202.2,255C205.73,254.45 209.27,254.23 212.8,254.2C216.33,254.17 219.87,254.37 223.4,254.8C226.93,255.23 230.47,256.02 234,256.8C237.53,257.58 241.07,258.63 244.6,259.5C248.13,260.37 251.68,261.05 255.2,262C258.72,262.95 261.82,264.13 265.7,265.2C269.58,266.27 274.25,267.52 278.5,268.4C282.75,269.28 286.97,269.9 291.2,270.5C295.43,271.1 298.97,271.3 303.9,272C308.83,272.7 317.98,274.25 320.8,274.7" fill="none" stroke="#8a8a8a" stroke-width="0.7"/>
<path d="M40.8,278.5C42.92,278.22 48.38,277.32 53.5,276.8C58.62,276.28 65.85,275.75 71.5,275.4C77.15,275.05 82.2,275.17 87.4,274.7C92.6,274.23 97.75,273.2 102.7,272.6C107.65,272 111.88,271.77 117.1,271.1C122.32,270.43 128.27,269.47 134,268.6C139.73,267.73 146.2,266.82 151.5,265.9C156.8,264.98 160.88,264.12 165.8,263.1C170.72,262.08 176.7,260.95 181,259.8C185.3,258.65 188.07,257.5 191.6,256.2C195.13,254.9 198.67,253.05 202.2,252C205.73,250.95 209.27,250 212.8,249.9C216.33,249.8 219.87,250.62 223.4,251.4C226.93,252.18 230.47,253.43 234,254.6C237.53,255.77 241.07,257.17 244.6,258.4C248.13,259.63 251.68,260.87 255.2,262C258.72,263.13 261.82,264.13 265.7,265.2C269.58,266.27 274.25,267.52 278.5,268.4C282.75,269.28 286.97,269.8 291.2,270.5C295.43,271.2 298.97,271.55 303.9,272.6C308.83,273.65 317.98,276.1 320.8,276.8" fill="none" stroke="#000" stroke-width="2.3" stroke-dasharray="4.5 2.5 13 2.5"/>
<rect x="26.5" y="246.5" width="309" height="36" fill="none" stroke="#636363" stroke-width="1"/>
<rect x="335.5" y="246.5" width="16" height="36" fill="#d9d9d9" stroke="#636363" stroke-width="1"/>
<text x="0" y="0" transform="translate(343.5,264.5) rotate(90)" text-anchor="middle" font-family='"Liberation Sans", sans-serif' font-size="10.5" fill="#1a1a1a" dy="5.2">19-24</text>
<line x1="24" y1="280.8" x2="26.5" y2="280.8" stroke="#333" stroke-width="0.8"/>
<text x="22.6" y="283.9" text-anchor="end" font-family='"Liberation Sans", sans-serif' font-size="6.6" fill="#4d4d4d">0</text>
<line x1="24" y1="274.48" x2="26.5" y2="274.48" stroke="#333" stroke-width="0.8"/>
<text x="22.6" y="277.58" text-anchor="end" font-family='"Liberation Sans", sans-serif' font-size="6.6" fill="#4d4d4d">1</text>
<line x1="24" y1="268.16" x2="26.5" y2="268.16" stroke="#333" stroke-width="0.8"/>
<text x="22.6" y="271.26" text-anchor="end" font-family='"Liberation Sans", sans-serif' font-size="6.6" fill="#4d4d4d">2</text>
<line x1="24" y1="261.84" x2="26.5" y2="261.84" stroke="#333" stroke-width="0.8"/>
<text x="22.6" y="264.94" text-anchor="end" font-family='"Liberation Sans", sans-serif' font-size="6.6" fill="#4d4d4d">3</text>
<line x1="24" y1="255.52" x2="26.5" y2="255.52" stroke="#333" stroke-width="0.8"/>
<text x="22.6" y="258.62" text-anchor="end" font-family='"Liberation Sans", sans-serif' font-size="6.6" fill="#4d4d4d">4</text>
<line x1="24" y1="249.2" x2="26.5" y2="249.2" stroke="#333" stroke-width="0.8"/>
<text x="22.6" y="252.3" text-anchor="end" font-family='"Liberation Sans", sans-serif' font-size="6.6" fill="#4d4d4d">5</text>
<line x1="26.5" y1="317.64" x2="335.5" y2="317.64" stroke="#f4f4f4" stroke-width="0.6"/>
<line x1="26.5" y1="311.32" x2="335.5" y2="311.32" stroke="#f4f4f4" stroke-width="0.6"/>
<line x1="26.5" y1="305" x2="335.5" y2="305" stroke="#f4f4f4" stroke-width="0.6"/>
<line x1="26.5" y1="298.68" x2="335.5" y2="298.68" stroke="#f4f4f4" stroke-width="0.6"/>
<line x1="26.5" y1="292.36" x2="335.5" y2="292.36" stroke="#f4f4f4" stroke-width="0.6"/>
<line x1="71.72" y1="286.5" x2="71.72" y2="322.5" stroke="#f4f4f4" stroke-width="0.6"/>
<line x1="133.97" y1="286.5" x2="133.97" y2="322.5" stroke="#f4f4f4" stroke-width="0.6"/>
<line x1="196.22" y1="286.5" x2="196.22" y2="322.5" stroke="#f4f4f4" stroke-width="0.6"/>
<line x1="258.48" y1="286.5" x2="258.48" y2="322.5" stroke="#f4f4f4" stroke-width="0.6"/>
<line x1="320.73" y1="286.5" x2="320.73" y2="322.5" stroke="#f4f4f4" stroke-width="0.6"/>
<line x1="26.5" y1="320.8" x2="335.5" y2="320.8" stroke="#ebebeb" stroke-width="0.9"/>
<line x1="26.5" y1="314.48" x2="335.5" y2="314.48" stroke="#ebebeb" stroke-width="0.9"/>
<line x1="26.5" y1="308.16" x2="335.5" y2="308.16" stroke="#ebebeb" stroke-width="0.9"/>
<line x1="26.5" y1="301.84" x2="335.5" y2="301.84" stroke="#ebebeb" stroke-width="0.9"/>
<line x1="26.5" y1="295.52" x2="335.5" y2="295.52" stroke="#ebebeb" stroke-width="0.9"/>
<line x1="26.5" y1="289.2" x2="335.5" y2="289.2" stroke="#ebebeb" stroke-width="0.9"/>
<line x1="40.6" y1="286.5" x2="40.6" y2="322.5" stroke="#ebebeb" stroke-width="0.9"/>
<line x1="102.85" y1="286.5" x2="102.85" y2="322.5" stroke="#ebebeb" stroke-width="0.9"/>
<line x1="165.1" y1="286.5" x2="165.1" y2="322.5" stroke="#ebebeb" stroke-width="0.9"/>
<line x1="227.35" y1="286.5" x2="227.35" y2="322.5" stroke="#ebebeb" stroke-width="0.9"/>
<line x1="289.6" y1="286.5" x2="289.6" y2="322.5" stroke="#ebebeb" stroke-width="0.9"/>
<path d="M40.8,318.5C42.92,318.22 48.38,317.25 53.5,316.8C58.62,316.35 65.85,316.03 71.5,315.8C77.15,315.57 82.2,315.75 87.4,315.4C92.6,315.05 97.75,314.38 102.7,313.7C107.65,313.02 111.88,312.05 117.1,311.3C122.32,310.55 128.27,310.02 134,309.2C139.73,308.38 146.2,307.45 151.5,306.4C156.8,305.35 161.22,304.17 165.8,302.9C170.38,301.63 174.7,300.18 179,298.8C183.3,297.42 187.73,296 191.6,294.6C195.47,293.2 198.55,291.58 202.2,290.4C205.85,289.22 210.18,287.8 213.5,287.5C216.82,287.2 219.3,287.87 222.1,288.6C224.9,289.33 227.57,290.75 230.3,291.9C233.03,293.05 235.48,294.08 238.5,295.5C241.52,296.92 245.62,299.22 248.4,300.4C251.18,301.58 252.32,301.63 255.2,302.6C258.08,303.57 261.82,305 265.7,306.2C269.58,307.4 274.25,308.85 278.5,309.8C282.75,310.75 286.97,311.18 291.2,311.9C295.43,312.62 298.97,313.1 303.9,314.1C308.83,315.1 317.98,317.27 320.8,317.9L320.8,320.8L40.8,320.8Z" fill="#FF61CC" fill-opacity="0.2"/>
<path d="M40.8,318.5C42.92,318.22 48.38,317.25 53.5,316.8C58.62,316.35 65.85,316.03 71.5,315.8C77.15,315.57 82.2,315.75 87.4,315.4C92.6,315.05 97.75,314.38 102.7,313.7C107.65,313.02 111.88,312.05 117.1,311.3C122.32,310.55 128.27,310.02 134,309.2C139.73,308.38 146.2,307.45 151.5,306.4C156.8,305.35 161.22,304.03 165.8,302.9C170.38,301.77 174.7,300.75 179,299.6C183.3,298.45 187.73,297.13 191.6,296C195.47,294.87 198.55,293.6 202.2,292.8C205.85,292 210.18,291.38 213.5,291.2C216.82,291.02 219.3,291.3 222.1,291.7C224.9,292.1 227.57,292.78 230.3,293.6C233.03,294.42 235.48,295.37 238.5,296.6C241.52,297.83 245.62,300 248.4,301C251.18,302 252.32,301.73 255.2,302.6C258.08,303.47 261.82,305 265.7,306.2C269.58,307.4 274.25,308.85 278.5,309.8C282.75,310.75 286.97,311.28 291.2,311.9C295.43,312.52 298.97,312.85 303.9,313.5C308.83,314.15 317.98,315.42 320.8,315.8L320.8,320.8L40.8,320.8Z" fill="#FF61CC" fill-opacity="0.3"/>
<path d="M40.8,318.5C42.92,318.22 48.38,317.25 53.5,316.8C58.62,316.35 65.85,316.03 71.5,315.8C77.15,315.57 82.2,315.75 87.4,315.4C92.6,315.05 97.75,314.38 102.7,313.7C107.65,313.02 111.88,312.05 117.1,311.3C122.32,310.55 128.27,310.02 134,309.2C139.73,308.38 146.2,307.45 151.5,306.4C156.8,305.35 161.22,304.03 165.8,302.9C170.38,301.77 174.7,300.75 179,299.6C183.3,298.45 187.73,297.13 191.6,296C195.47,294.87 198.55,293.6 202.2,292.8C205.85,292 210.18,291.38 213.5,291.2C216.82,291.02 219.3,291.3 222.1,291.7C224.9,292.1 227.57,292.78 230.3,293.6C233.03,294.42 235.48,295.37 238.5,296.6C241.52,297.83 245.62,300 248.4,301C251.18,302 252.32,301.73 255.2,302.6C258.08,303.47 261.82,305 265.7,306.2C269.58,307.4 274.25,308.85 278.5,309.8C282.75,310.75 286.97,311.28 291.2,311.9C295.43,312.52 298.97,312.85 303.9,313.5C308.83,314.15 317.98,315.42 320.8,315.8" fill="none" stroke="#8a8a8a" stroke-width="0.7"/>
<path d="M40.8,318.5C42.92,318.22 48.38,317.25 53.5,316.8C58.62,316.35 65.85,316.03 71.5,315.8C77.15,315.57 82.2,315.75 87.4,315.4C92.6,315.05 97.75,314.38 102.7,313.7C107.65,313.02 111.88,312.05 117.1,311.3C122.32,310.55 128.27,310.02 134,309.2C139.73,308.38 146.2,307.45 151.5,306.4C156.8,305.35 161.22,304.17 165.8,302.9C170.38,301.63 174.7,300.18 179,298.8C183.3,297.42 187.73,296 191.6,294.6C195.47,293.2 198.55,291.58 202.2,290.4C205.85,289.22 210.18,287.8 213.5,287.5C216.82,287.2 219.3,287.87 222.1,288.6C224.9,289.33 227.57,290.75 230.3,291.9C233.03,293.05 235.48,294.08 238.5,295.5C241.52,296.92 245.62,299.22 248.4,300.4C251.18,301.58 252.32,301.63 255.2,302.6C258.08,303.57 261.82,305 265.7,306.2C269.58,307.4 274.25,308.85 278.5,309.8C282.75,310.75 286.97,311.18 291.2,311.9C295.43,312.62 298.97,313.1 303.9,314.1C308.83,315.1 317.98,317.27 320.8,317.9" fill="none" stroke="#000" stroke-width="2.3" stroke-dasharray="4.5 2.5 13 2.5"/>
<rect x="26.5" y="286.5" width="309" height="36" fill="none" stroke="#636363" stroke-width="1"/>
<rect x="335.5" y="286.5" width="16" height="36" fill="#d9d9d9" stroke="#636363" stroke-width="1"/>
<text x="0" y="0" transform="translate(343.5,304.5) rotate(90)" text-anchor="middle" font-family='"Liberation Sans", sans-serif' font-size="10.5" fill="#1a1a1a" dy="5.2">Annual</text>
<line x1="24" y1="320.8" x2="26.5" y2="320.8" stroke="#333" stroke-width="0.8"/>
<text x="22.6" y="323.9" text-anchor="end" font-family='"Liberation Sans", sans-serif' font-size="6.6" fill="#4d4d4d">0</text>
<line x1="24" y1="314.48" x2="26.5" y2="314.48" stroke="#333" stroke-width="0.8"/>
<text x="22.6" y="317.58" text-anchor="end" font-family='"Liberation Sans", sans-serif' font-size="6.6" fill="#4d4d4d">1</text>
<line x1="24" y1="308.16" x2="26.5" y2="308.16" stroke="#333" stroke-width="0.8"/>
<text x="22.6" y="311.26" text-anchor="end" font-family='"Liberation Sans", sans-serif' font-size="6.6" fill="#4d4d4d">2</text>
<line x1="24" y1="301.84" x2="26.5" y2="301.84" stroke="#333" stroke-width="0.8"/>
<text x="22.6" y="304.94" text-anchor="end" font-family='"Liberation Sans", sans-serif' font-size="6.6" fill="#4d4d4d">3</text>
<line x1="24" y1="295.52" x2="26.5" y2="295.52" stroke="#333" stroke-width="0.8"/>
<text x="22.6" y="298.62" text-anchor="end" font-family='"Liberation Sans", sans-serif' font-size="6.6" fill="#4d4d4d">4</text>
<line x1="24" y1="289.2" x2="26.5" y2="289.2" stroke="#333" stroke-width="0.8"/>
<text x="22.6" y="292.3" text-anchor="end" font-family='"Liberation Sans", sans-serif' font-size="6.6" fill="#4d4d4d">5</text>
<line x1="40.6" y1="322.5" x2="40.6" y2="324.5" stroke="#333" stroke-width="0.8"/>
<text x="40.6" y="332.3" text-anchor="middle" font-family='"Liberation Sans", sans-serif' font-size="6.6" fill="#4d4d4d">-0.2</text>
<line x1="102.85" y1="322.5" x2="102.85" y2="324.5" stroke="#333" stroke-width="0.8"/>
<text x="102.85" y="332.3" text-anchor="middle" font-family='"Liberation Sans", sans-serif' font-size="6.6" fill="#4d4d4d">-0.1</text>
<line x1="165.1" y1="322.5" x2="165.1" y2="324.5" stroke="#333" stroke-width="0.8"/>
<text x="165.1" y="332.3" text-anchor="middle" font-family='"Liberation Sans", sans-serif' font-size="6.6" fill="#4d4d4d">0.0</text>
<line x1="227.35" y1="322.5" x2="227.35" y2="324.5" stroke="#333" stroke-width="0.8"/>
<text x="227.35" y="332.3" text-anchor="middle" font-family='"Liberation Sans", sans-serif' font-size="6.6" fill="#4d4d4d">0.1</text>
<line x1="289.6" y1="322.5" x2="289.6" y2="324.5" stroke="#333" stroke-width="0.8"/>
<text x="289.6" y="332.3" text-anchor="middle" font-family='"Liberation Sans", sans-serif' font-size="6.6" fill="#4d4d4d">0.2</text>
<text x="136" y="347.6" font-family='"Liberation Sans", sans-serif' font-size="11.5" fill="#1a1a1a">Vehicle jerk, m<tspan dx="0.8">/</tspan><tspan dx="0.8">s</tspan><tspan font-size="8" dy="-5">3</tspan></text>
<text x="0" y="0" transform="translate(15.3,164.2) rotate(-90)" text-anchor="middle" font-family='"Liberation Sans", sans-serif' font-size="11.8" fill="#1a1a1a">Density</text>
<line x1="395.5" y1="53.7" x2="708.5" y2="53.7" stroke="#f4f4f4" stroke-width="0.6"/>
<line x1="395.5" y1="34.5" x2="708.5" y2="34.5" stroke="#f4f4f4" stroke-width="0.6"/>
<line x1="395.5" y1="15.3" x2="708.5" y2="15.3" stroke="#f4f4f4" stroke-width="0.6"/>
<line x1="437.9" y1="6.5" x2="437.9" y2="66.4" stroke="#f4f4f4" stroke-width="0.6"/>
<line x1="494.9" y1="6.5" x2="494.9" y2="66.4" stroke="#f4f4f4" stroke-width="0.6"/>
<line x1="551.9" y1="6.5" x2="551.9" y2="66.4" stroke="#f4f4f4" stroke-width="0.6"/>
<line x1="608.9" y1="6.5" x2="608.9" y2="66.4" stroke="#f4f4f4" stroke-width="0.6"/>
<line x1="665.9" y1="6.5" x2="665.9" y2="66.4" stroke="#f4f4f4" stroke-width="0.6"/>
<line x1="395.5" y1="63.3" x2="708.5" y2="63.3" stroke="#ebebeb" stroke-width="0.9"/>
<line x1="395.5" y1="44.1" x2="708.5" y2="44.1" stroke="#ebebeb" stroke-width="0.9"/>
<line x1="395.5" y1="24.9" x2="708.5" y2="24.9" stroke="#ebebeb" stroke-width="0.9"/>
<line x1="409.4" y1="6.5" x2="409.4" y2="66.4" stroke="#ebebeb" stroke-width="0.9"/>
<line x1="466.4" y1="6.5" x2="466.4" y2="66.4" stroke="#ebebeb" stroke-width="0.9"/>
<line x1="523.4" y1="6.5" x2="523.4" y2="66.4" stroke="#ebebeb" stroke-width="0.9"/>
<line x1="580.4" y1="6.5" x2="580.4" y2="66.4" stroke="#ebebeb" stroke-width="0.9"/>
<line x1="637.4" y1="6.5" x2="637.4" y2="66.4" stroke="#ebebeb" stroke-width="0.9"/>
<line x1="694.4" y1="6.5" x2="694.4" y2="66.4" stroke="#ebebeb" stroke-width="0.9"/>
<path d="M409.2,61C411.08,60.45 415.78,58.67 420.5,57.7C425.22,56.73 432.38,55.78 437.5,55.2C442.62,54.62 446.42,54.7 451.2,54.2C455.98,53.7 461.07,53.18 466.2,52.2C471.33,51.22 478.03,49.5 482,48.3C485.97,47.1 487,46.07 490,45C493,43.93 496.67,42.97 500,41.9C503.33,40.83 506.67,39.85 510,38.6C513.33,37.35 515.8,36.28 520,34.4C524.2,32.52 530.2,29.37 535.2,27.3C540.2,25.23 546.52,23.15 550,22C553.48,20.85 553.53,20.83 556.1,20.4C558.67,19.97 562.67,19.23 565.4,19.4C568.13,19.57 569.95,20.28 572.5,21.4C575.05,22.52 577.62,24.38 580.7,26.1C583.78,27.82 587.58,29.92 591,31.7C594.42,33.48 597.78,35.27 601.2,36.8C604.62,38.33 607.73,39.37 611.5,40.9C615.27,42.43 619.43,44.47 623.8,46C628.17,47.53 632.92,48.73 637.7,50.1C642.48,51.47 647.82,53.07 652.5,54.2C657.18,55.33 661.37,56.12 665.8,56.9C670.23,57.68 674.32,58.15 679.1,58.9C683.88,59.65 691.93,60.98 694.5,61.4L694.5,63.3L409.2,63.3Z" fill="#F8766D" fill-opacity="0.26"/>
<path d="M409.2,61C411.08,60.45 415.78,58.67 420.5,57.7C425.22,56.73 432.38,55.82 437.5,55.2C442.62,54.58 446.42,54.62 451.2,54C455.98,53.38 461.07,52.72 466.2,51.5C471.33,50.28 477.25,48.12 482,46.7C486.75,45.28 490.27,44.32 494.7,43C499.13,41.68 503.82,40.6 508.6,38.8C513.38,37 518.97,34.2 523.4,32.2C527.83,30.2 530.77,28.63 535.2,26.8C539.63,24.97 546.52,22.5 550,21.2C553.48,19.9 554.05,19.55 556.1,19C558.15,18.45 559.98,17.82 562.3,17.9C564.62,17.98 566.93,18.23 570,19.5C573.07,20.77 577.2,23.5 580.7,25.5C584.2,27.5 587.58,29.5 591,31.5C594.42,33.5 597.78,35.75 601.2,37.5C604.62,39.25 607.73,40.35 611.5,42C615.27,43.65 619.43,45.85 623.8,47.4C628.17,48.95 632.92,50.03 637.7,51.3C642.48,52.57 647.82,53.97 652.5,55C657.18,56.03 661.37,56.78 665.8,57.5C670.23,58.22 674.32,58.65 679.1,59.3C683.88,59.95 691.93,61.05 694.5,61.4L694.5,63.3L409.2,63.3Z" fill="#F8766D" fill-opacity="0.26"/>
<path d="M409.2,61C411.08,60.48 415.78,58.82 420.5,57.9C425.22,56.98 432.38,56.05 437.5,55.5C442.62,54.95 446.42,55.02 451.2,54.6C455.98,54.18 461.07,53.82 466.2,53C471.33,52.18 478.03,50.7 482,49.7C485.97,48.7 487,47.88 490,47C493,46.12 496.67,45.25 500,44.4C503.33,43.55 506.67,42.77 510,41.9C513.33,41.03 516.12,40.65 520,39.2C523.88,37.75 529.42,35.18 533.3,33.2C537.18,31.22 539.97,29.35 543.3,27.3C546.63,25.25 550.52,22.35 553.3,20.9C556.08,19.45 557.47,19.1 560,18.6C562.53,18.1 565.83,17.67 568.5,17.9C571.17,18.13 573.63,19.17 576,20C578.37,20.83 580.48,21.86 582.7,22.9C584.92,23.94 587.08,25 589.3,26.25C591.52,27.5 594.02,28.94 596,30.4C597.98,31.86 598.62,33.53 601.2,35C603.78,36.47 607.73,37.57 611.5,39.2C615.27,40.83 619.43,43.08 623.8,44.8C628.17,46.52 632.92,48 637.7,49.5C642.48,51 647.82,52.62 652.5,53.8C657.18,54.98 661.37,55.78 665.8,56.6C670.23,57.42 674.32,57.93 679.1,58.7C683.88,59.47 691.93,60.78 694.5,61.2L694.5,63.3L409.2,63.3Z" fill="#F8766D" fill-opacity="0.26"/>
<path d="M409.2,61C411.08,60.48 415.78,58.82 420.5,57.9C425.22,56.98 432.38,56.05 437.5,55.5C442.62,54.95 446.42,55.02 451.2,54.6C455.98,54.18 461.07,53.82 466.2,53C471.33,52.18 478.03,50.7 482,49.7C485.97,48.7 487,47.88 490,47C493,46.12 496.67,45.25 500,44.4C503.33,43.55 506.67,42.77 510,41.9C513.33,41.03 516.12,40.65 520,39.2C523.88,37.75 529.42,35.18 533.3,33.2C537.18,31.22 539.97,29.35 543.3,27.3C546.63,25.25 550.52,22.35 553.3,20.9C556.08,19.45 557.47,19.1 560,18.6C562.53,18.1 565.83,17.67 568.5,17.9C571.17,18.13 573.63,19.17 576,20C578.37,20.83 580.48,21.86 582.7,22.9C584.92,23.94 587.08,25 589.3,26.25C591.52,27.5 594.02,28.94 596,30.4C597.98,31.86 598.62,33.53 601.2,35C603.78,36.47 607.73,37.57 611.5,39.2C615.27,40.83 619.43,43.08 623.8,44.8C628.17,46.52 632.92,48 637.7,49.5C642.48,51 647.82,52.62 652.5,53.8C657.18,54.98 661.37,55.78 665.8,56.6C670.23,57.42 674.32,57.93 679.1,58.7C683.88,59.47 691.93,60.78 694.5,61.2" fill="none" stroke="#000" stroke-width="1.1" stroke-dasharray="1.1 2.4"/>
<path d="M409.2,61C411.08,60.45 415.78,58.67 420.5,57.7C425.22,56.73 432.38,55.82 437.5,55.2C442.62,54.58 446.42,54.62 451.2,54C455.98,53.38 461.07,52.72 466.2,51.5C471.33,50.28 477.25,48.12 482,46.7C486.75,45.28 490.27,44.32 494.7,43C499.13,41.68 503.82,40.6 508.6,38.8C513.38,37 518.97,34.2 523.4,32.2C527.83,30.2 530.77,28.63 535.2,26.8C539.63,24.97 546.52,22.5 550,21.2C553.48,19.9 554.05,19.55 556.1,19C558.15,18.45 559.98,17.82 562.3,17.9C564.62,17.98 566.93,18.23 570,19.5C573.07,20.77 577.2,23.5 580.7,25.5C584.2,27.5 587.58,29.5 591,31.5C594.42,33.5 597.78,35.75 601.2,37.5C604.62,39.25 607.73,40.35 611.5,42C615.27,43.65 619.43,45.85 623.8,47.4C628.17,48.95 632.92,50.03 637.7,51.3C642.48,52.57 647.82,53.97 652.5,55C657.18,56.03 661.37,56.78 665.8,57.5C670.23,58.22 674.32,58.65 679.1,59.3C683.88,59.95 691.93,61.05 694.5,61.4" fill="none" stroke="#000" stroke-width="1.1" stroke-dasharray="4 2.5"/>
<path d="M409.2,61C411.08,60.45 415.78,58.67 420.5,57.7C425.22,56.73 432.38,55.78 437.5,55.2C442.62,54.62 446.42,54.7 451.2,54.2C455.98,53.7 461.07,53.18 466.2,52.2C471.33,51.22 478.03,49.5 482,48.3C485.97,47.1 487,46.07 490,45C493,43.93 496.67,42.97 500,41.9C503.33,40.83 506.67,39.85 510,38.6C513.33,37.35 515.8,36.28 520,34.4C524.2,32.52 530.2,29.37 535.2,27.3C540.2,25.23 546.52,23.15 550,22C553.48,20.85 553.53,20.83 556.1,20.4C558.67,19.97 562.67,19.23 565.4,19.4C568.13,19.57 569.95,20.28 572.5,21.4C575.05,22.52 577.62,24.38 580.7,26.1C583.78,27.82 587.58,29.92 591,31.7C594.42,33.48 597.78,35.27 601.2,36.8C604.62,38.33 607.73,39.37 611.5,40.9C615.27,42.43 619.43,44.47 623.8,46C628.17,47.53 632.92,48.73 637.7,50.1C642.48,51.47 647.82,53.07 652.5,54.2C657.18,55.33 661.37,56.12 665.8,56.9C670.23,57.68 674.32,58.15 679.1,58.9C683.88,59.65 691.93,60.98 694.5,61.4" fill="none" stroke="#111" stroke-width="1.1"/>
<rect x="395.5" y="6.5" width="313" height="59.9" fill="none" stroke="#636363" stroke-width="1"/>
<rect x="708.5" y="6.5" width="17" height="59.9" fill="#d9d9d9" stroke="#636363" stroke-width="1"/>
<text x="0" y="0" transform="translate(717,36.45) rotate(90)" text-anchor="middle" font-family='"Liberation Sans", sans-serif' font-size="11.5" fill="#1a1a1a" dy="4.7">Mondays</text>
<line x1="393" y1="63.3" x2="395.5" y2="63.3" stroke="#333" stroke-width="0.8"/>
<text x="391.3" y="66.25" text-anchor="end" font-family='"Liberation Sans", sans-serif' font-size="6.6" fill="#4d4d4d">0</text>
<line x1="393" y1="44.1" x2="395.5" y2="44.1" stroke="#333" stroke-width="0.8"/>
<text x="391.3" y="47.05" text-anchor="end" font-family='"Liberation Sans", sans-serif' font-size="6.6" fill="#4d4d4d">2</text>
<line x1="393" y1="24.9" x2="395.5" y2="24.9" stroke="#333" stroke-width="0.8"/>
<text x="391.3" y="27.85" text-anchor="end" font-family='"Liberation Sans", sans-serif' font-size="6.6" fill="#4d4d4d">4</text>
<line x1="395.5" y1="117.6" x2="708.5" y2="117.6" stroke="#f4f4f4" stroke-width="0.6"/>
<line x1="395.5" y1="98.4" x2="708.5" y2="98.4" stroke="#f4f4f4" stroke-width="0.6"/>
<line x1="395.5" y1="79.2" x2="708.5" y2="79.2" stroke="#f4f4f4" stroke-width="0.6"/>
<line x1="437.9" y1="70.4" x2="437.9" y2="130.3" stroke="#f4f4f4" stroke-width="0.6"/>
<line x1="494.9" y1="70.4" x2="494.9" y2="130.3" stroke="#f4f4f4" stroke-width="0.6"/>
<line x1="551.9" y1="70.4" x2="551.9" y2="130.3" stroke="#f4f4f4" stroke-width="0.6"/>
<line x1="608.9" y1="70.4" x2="608.9" y2="130.3" stroke="#f4f4f4" stroke-width="0.6"/>
<line x1="665.9" y1="70.4" x2="665.9" y2="130.3" stroke="#f4f4f4" stroke-width="0.6"/>
<line x1="395.5" y1="127.2" x2="708.5" y2="127.2" stroke="#ebebeb" stroke-width="0.9"/>
<line x1="395.5" y1="108" x2="708.5" y2="108" stroke="#ebebeb" stroke-width="0.9"/>
<line x1="395.5" y1="88.8" x2="708.5" y2="88.8" stroke="#ebebeb" stroke-width="0.9"/>
<line x1="409.4" y1="70.4" x2="409.4" y2="130.3" stroke="#ebebeb" stroke-width="0.9"/>
<line x1="466.4" y1="70.4" x2="466.4" y2="130.3" stroke="#ebebeb" stroke-width="0.9"/>
<line x1="523.4" y1="70.4" x2="523.4" y2="130.3" stroke="#ebebeb" stroke-width="0.9"/>
<line x1="580.4" y1="70.4" x2="580.4" y2="130.3" stroke="#ebebeb" stroke-width="0.9"/>
<line x1="637.4" y1="70.4" x2="637.4" y2="130.3" stroke="#ebebeb" stroke-width="0.9"/>
<line x1="694.4" y1="70.4" x2="694.4" y2="130.3" stroke="#ebebeb" stroke-width="0.9"/>
<path d="M409.2,125C411.08,124.55 415.78,123.08 420.5,122.3C425.22,121.52 431.35,121.08 437.5,120.3C443.65,119.52 452.62,118.4 457.4,117.6C462.18,116.8 462.1,116.42 466.2,115.5C470.3,114.58 477.25,113.18 482,112.1C486.75,111.02 490.27,110.03 494.7,109C499.13,107.97 503.82,107.62 508.6,105.9C513.38,104.18 518.97,101.08 523.4,98.7C527.83,96.32 530.77,94.13 535.2,91.6C539.63,89.07 546.52,85.22 550,83.5C553.48,81.78 554.05,81.77 556.1,81.3C558.15,80.83 559.9,80.53 562.3,80.7C564.7,80.87 567.43,81.17 570.5,82.3C573.57,83.43 577.28,85.45 580.7,87.5C584.12,89.55 587.58,92.38 591,94.6C594.42,96.82 597.78,99.08 601.2,100.8C604.62,102.52 607.73,103.53 611.5,104.9C615.27,106.27 619.43,107.57 623.8,109C628.17,110.43 632.92,112.07 637.7,113.5C642.48,114.93 647.82,116.47 652.5,117.6C657.18,118.73 661.37,119.52 665.8,120.3C670.23,121.08 674.32,121.45 679.1,122.3C683.88,123.15 691.93,124.88 694.5,125.4L694.5,127.2L409.2,127.2Z" fill="#A3A500" fill-opacity="0.26"/>
<path d="M409.2,125C411.08,124.55 415.78,123.08 420.5,122.3C425.22,121.52 431.35,121.12 437.5,120.3C443.65,119.48 452.62,118.25 457.4,117.4C462.18,116.55 462.1,116.18 466.2,115.2C470.3,114.22 477.25,112.78 482,111.5C486.75,110.22 490.27,108.95 494.7,107.5C499.13,106.05 503.82,104.95 508.6,102.8C513.38,100.65 518.97,97.07 523.4,94.6C527.83,92.13 531.87,89.7 535.2,88C538.53,86.3 540.93,85.43 543.4,84.4C545.87,83.37 547.88,82.43 550,81.8C552.12,81.17 554.05,80.77 556.1,80.6C558.15,80.43 559.9,80.4 562.3,80.8C564.7,81.2 567.43,81.63 570.5,83C573.57,84.37 577.28,86.75 580.7,89C584.12,91.25 587.58,94.2 591,96.5C594.42,98.8 597.78,101.05 601.2,102.8C604.62,104.55 607.73,105.63 611.5,107C615.27,108.37 619.43,109.47 623.8,111C628.17,112.53 632.92,114.78 637.7,116.2C642.48,117.62 647.82,118.62 652.5,119.5C657.18,120.38 661.37,120.92 665.8,121.5C670.23,122.08 674.32,122.35 679.1,123C683.88,123.65 691.93,125 694.5,125.4L694.5,127.2L409.2,127.2Z" fill="#A3A500" fill-opacity="0.26"/>
<path d="M409.2,125C411.08,124.58 415.78,123.23 420.5,122.5C425.22,121.77 431.35,121.32 437.5,120.6C443.65,119.88 452.62,118.88 457.4,118.2C462.18,117.52 462.1,117.18 466.2,116.5C470.3,115.82 477.25,114.93 482,114.1C486.75,113.27 490.27,112.6 494.7,111.5C499.13,110.4 503.82,109.28 508.6,107.5C513.38,105.72 518.97,102.97 523.4,100.8C527.83,98.63 530.77,96.88 535.2,94.5C539.63,92.12 546.2,88.5 550,86.5C553.8,84.5 555.5,83.42 558,82.5C560.5,81.58 562.67,81.08 565,81C567.33,80.92 569.38,81.17 572,82C574.62,82.83 577.53,84.17 580.7,86C583.87,87.83 587.58,90.75 591,93C594.42,95.25 597.78,97.67 601.2,99.5C604.62,101.33 607.73,102.5 611.5,104C615.27,105.5 619.43,107 623.8,108.5C628.17,110 632.92,111.55 637.7,113C642.48,114.45 647.82,116.03 652.5,117.2C657.18,118.37 661.37,119.2 665.8,120C670.23,120.8 674.32,121.13 679.1,122C683.88,122.87 691.93,124.67 694.5,125.2L694.5,127.2L409.2,127.2Z" fill="#A3A500" fill-opacity="0.26"/>
<path d="M409.2,125C411.08,124.58 415.78,123.23 420.5,122.5C425.22,121.77 431.35,121.32 437.5,120.6C443.65,119.88 452.62,118.88 457.4,118.2C462.18,117.52 462.1,117.18 466.2,116.5C470.3,115.82 477.25,114.93 482,114.1C486.75,113.27 490.27,112.6 494.7,111.5C499.13,110.4 503.82,109.28 508.6,107.5C513.38,105.72 518.97,102.97 523.4,100.8C527.83,98.63 530.77,96.88 535.2,94.5C539.63,92.12 546.2,88.5 550,86.5C553.8,84.5 555.5,83.42 558,82.5C560.5,81.58 562.67,81.08 565,81C567.33,80.92 569.38,81.17 572,82C574.62,82.83 577.53,84.17 580.7,86C583.87,87.83 587.58,90.75 591,93C594.42,95.25 597.78,97.67 601.2,99.5C604.62,101.33 607.73,102.5 611.5,104C615.27,105.5 619.43,107 623.8,108.5C628.17,110 632.92,111.55 637.7,113C642.48,114.45 647.82,116.03 652.5,117.2C657.18,118.37 661.37,119.2 665.8,120C670.23,120.8 674.32,121.13 679.1,122C683.88,122.87 691.93,124.67 694.5,125.2" fill="none" stroke="#000" stroke-width="1.1" stroke-dasharray="1.1 2.4"/>
<path d="M409.2,125C411.08,124.55 415.78,123.08 420.5,122.3C425.22,121.52 431.35,121.12 437.5,120.3C443.65,119.48 452.62,118.25 457.4,117.4C462.18,116.55 462.1,116.18 466.2,115.2C470.3,114.22 477.25,112.78 482,111.5C486.75,110.22 490.27,108.95 494.7,107.5C499.13,106.05 503.82,104.95 508.6,102.8C513.38,100.65 518.97,97.07 523.4,94.6C527.83,92.13 531.87,89.7 535.2,88C538.53,86.3 540.93,85.43 543.4,84.4C545.87,83.37 547.88,82.43 550,81.8C552.12,81.17 554.05,80.77 556.1,80.6C558.15,80.43 559.9,80.4 562.3,80.8C564.7,81.2 567.43,81.63 570.5,83C573.57,84.37 577.28,86.75 580.7,89C584.12,91.25 587.58,94.2 591,96.5C594.42,98.8 597.78,101.05 601.2,102.8C604.62,104.55 607.73,105.63 611.5,107C615.27,108.37 619.43,109.47 623.8,111C628.17,112.53 632.92,114.78 637.7,116.2C642.48,117.62 647.82,118.62 652.5,119.5C657.18,120.38 661.37,120.92 665.8,121.5C670.23,122.08 674.32,122.35 679.1,123C683.88,123.65 691.93,125 694.5,125.4" fill="none" stroke="#000" stroke-width="1.1" stroke-dasharray="4 2.5"/>
<path d="M409.2,125C411.08,124.55 415.78,123.08 420.5,122.3C425.22,121.52 431.35,121.08 437.5,120.3C443.65,119.52 452.62,118.4 457.4,117.6C462.18,116.8 462.1,116.42 466.2,115.5C470.3,114.58 477.25,113.18 482,112.1C486.75,111.02 490.27,110.03 494.7,109C499.13,107.97 503.82,107.62 508.6,105.9C513.38,104.18 518.97,101.08 523.4,98.7C527.83,96.32 530.77,94.13 535.2,91.6C539.63,89.07 546.52,85.22 550,83.5C553.48,81.78 554.05,81.77 556.1,81.3C558.15,80.83 559.9,80.53 562.3,80.7C564.7,80.87 567.43,81.17 570.5,82.3C573.57,83.43 577.28,85.45 580.7,87.5C584.12,89.55 587.58,92.38 591,94.6C594.42,96.82 597.78,99.08 601.2,100.8C604.62,102.52 607.73,103.53 611.5,104.9C615.27,106.27 619.43,107.57 623.8,109C628.17,110.43 632.92,112.07 637.7,113.5C642.48,114.93 647.82,116.47 652.5,117.6C657.18,118.73 661.37,119.52 665.8,120.3C670.23,121.08 674.32,121.45 679.1,122.3C683.88,123.15 691.93,124.88 694.5,125.4" fill="none" stroke="#111" stroke-width="1.1"/>
<rect x="395.5" y="70.4" width="313" height="59.9" fill="none" stroke="#636363" stroke-width="1"/>
<rect x="708.5" y="70.4" width="17" height="59.9" fill="#d9d9d9" stroke="#636363" stroke-width="1"/>
<text x="0" y="0" transform="translate(717,100.35) rotate(90)" text-anchor="middle" font-family='"Liberation Sans", sans-serif' font-size="11.5" fill="#1a1a1a" dy="4.7">Tuesdays</text>
<line x1="393" y1="127.2" x2="395.5" y2="127.2" stroke="#333" stroke-width="0.8"/>
<text x="391.3" y="130.15" text-anchor="end" font-family='"Liberation Sans", sans-serif' font-size="6.6" fill="#4d4d4d">0</text>
<line x1="393" y1="108" x2="395.5" y2="108" stroke="#333" stroke-width="0.8"/>
<text x="391.3" y="110.95" text-anchor="end" font-family='"Liberation Sans", sans-serif' font-size="6.6" fill="#4d4d4d">2</text>
<line x1="393" y1="88.8" x2="395.5" y2="88.8" stroke="#333" stroke-width="0.8"/>
<text x="391.3" y="91.75" text-anchor="end" font-family='"Liberation Sans", sans-serif' font-size="6.6" fill="#4d4d4d">4</text>
<line x1="395.5" y1="181.4" x2="708.5" y2="181.4" stroke="#f4f4f4" stroke-width="0.6"/>
<line x1="395.5" y1="162.2" x2="708.5" y2="162.2" stroke="#f4f4f4" stroke-width="0.6"/>
<line x1="395.5" y1="143" x2="708.5" y2="143" stroke="#f4f4f4" stroke-width="0.6"/>
<line x1="437.9" y1="134.2" x2="437.9" y2="194.1" stroke="#f4f4f4" stroke-width="0.6"/>
<line x1="494.9" y1="134.2" x2="494.9" y2="194.1" stroke="#f4f4f4" stroke-width="0.6"/>
<line x1="551.9" y1="134.2" x2="551.9" y2="194.1" stroke="#f4f4f4" stroke-width="0.6"/>
<line x1="608.9" y1="134.2" x2="608.9" y2="194.1" stroke="#f4f4f4" stroke-width="0.6"/>
<line x1="665.9" y1="134.2" x2="665.9" y2="194.1" stroke="#f4f4f4" stroke-width="0.6"/>
<line x1="395.5" y1="191" x2="708.5" y2="191" stroke="#ebebeb" stroke-width="0.9"/>
<line x1="395.5" y1="171.8" x2="708.5" y2="171.8" stroke="#ebebeb" stroke-width="0.9"/>
<line x1="395.5" y1="152.6" x2="708.5" y2="152.6" stroke="#ebebeb" stroke-width="0.9"/>
<line x1="409.4" y1="134.2" x2="409.4" y2="194.1" stroke="#ebebeb" stroke-width="0.9"/>
<line x1="466.4" y1="134.2" x2="466.4" y2="194.1" stroke="#ebebeb" stroke-width="0.9"/>
<line x1="523.4" y1="134.2" x2="523.4" y2="194.1" stroke="#ebebeb" stroke-width="0.9"/>
<line x1="580.4" y1="134.2" x2="580.4" y2="194.1" stroke="#ebebeb" stroke-width="0.9"/>
<line x1="637.4" y1="134.2" x2="637.4" y2="194.1" stroke="#ebebeb" stroke-width="0.9"/>
<line x1="694.4" y1="134.2" x2="694.4" y2="194.1" stroke="#ebebeb" stroke-width="0.9"/>
<path d="M409.2,189C411.08,188.55 415.78,187.27 420.5,186.3C425.22,185.33 432.03,184.05 437.5,183.2C442.97,182.35 448.52,181.95 453.3,181.2C458.08,180.45 461.42,179.5 466.2,178.7C470.98,177.9 477.25,177.13 482,176.4C486.75,175.67 491.7,174.93 494.7,174.3C497.7,173.67 496.33,174.23 500,172.6C503.67,170.97 511.15,167.15 516.7,164.5C522.25,161.85 527.75,159.15 533.3,156.7C538.85,154.25 545.88,151.28 550,149.8C554.12,148.32 555.67,148.23 558,147.8C560.33,147.37 562,147.2 564,147.2C566,147.2 567.33,147.08 570,147.8C572.67,148.52 576.67,149.92 580,151.5C583.33,153.08 586.67,155.33 590,157.3C593.33,159.27 596.42,161.47 600,163.3C603.58,165.13 607.53,166.68 611.5,168.3C615.47,169.92 619.43,171.53 623.8,173C628.17,174.47 632.92,175.73 637.7,177.1C642.48,178.47 647.82,180.12 652.5,181.2C657.18,182.28 661.37,182.75 665.8,183.6C670.23,184.45 674.32,185.33 679.1,186.3C683.88,187.27 691.93,188.88 694.5,189.4L694.5,191L409.2,191Z" fill="#00BF7D" fill-opacity="0.26"/>
<path d="M409.2,189C411.08,188.53 415.78,187.2 420.5,186.2C425.22,185.2 432.03,183.9 437.5,183C442.97,182.1 448.52,181.6 453.3,180.8C458.08,180 461.42,179.08 466.2,178.2C470.98,177.32 477.25,176.37 482,175.5C486.75,174.63 491.7,173.72 494.7,173C497.7,172.28 496.33,172.97 500,171.2C503.67,169.43 511.15,165.23 516.7,162.4C522.25,159.57 528.58,156.43 533.3,154.2C538.02,151.97 541.72,150.27 545,149C548.28,147.73 550.5,147.07 553,146.6C555.5,146.13 557.67,146.07 560,146.2C562.33,146.33 564.5,146.68 567,147.4C569.5,148.12 572.83,149.48 575,150.5C577.17,151.52 577.5,152 580,153.5C582.5,155 586.67,157.53 590,159.5C593.33,161.47 596.42,163.58 600,165.3C603.58,167.02 607.53,168.35 611.5,169.8C615.47,171.25 619.43,172.67 623.8,174C628.17,175.33 632.92,176.53 637.7,177.8C642.48,179.07 647.82,180.57 652.5,181.6C657.18,182.63 661.37,183.18 665.8,184C670.23,184.82 674.32,185.6 679.1,186.5C683.88,187.4 691.93,188.92 694.5,189.4L694.5,191L409.2,191Z" fill="#00BF7D" fill-opacity="0.26"/>
<path d="M409.2,189C411.08,188.57 415.78,187.33 420.5,186.4C425.22,185.47 432.03,184.25 437.5,183.4C442.97,182.55 448.52,182.05 453.3,181.3C458.08,180.55 461.42,179.7 466.2,178.9C470.98,178.1 477.25,177.23 482,176.5C486.75,175.77 491.7,175.03 494.7,174.5C497.7,173.97 496.33,174.83 500,173.3C503.67,171.77 511.15,167.98 516.7,165.3C522.25,162.62 527.75,159.75 533.3,157.2C538.85,154.65 545.88,151.65 550,150C554.12,148.35 555.22,147.88 558,147.3C560.78,146.72 564.03,146.38 566.7,146.5C569.37,146.62 571.78,147.28 574,148C576.22,148.72 577.33,149.38 580,150.8C582.67,152.22 586.67,154.55 590,156.5C593.33,158.45 596.42,160.7 600,162.5C603.58,164.3 607.53,165.62 611.5,167.3C615.47,168.98 619.43,170.98 623.8,172.6C628.17,174.22 632.92,175.6 637.7,177C642.48,178.4 647.82,179.93 652.5,181C657.18,182.07 661.37,182.55 665.8,183.4C670.23,184.25 674.32,185.13 679.1,186.1C683.88,187.07 691.93,188.68 694.5,189.2L694.5,191L409.2,191Z" fill="#00BF7D" fill-opacity="0.26"/>
<path d="M409.2,189C411.08,188.57 415.78,187.33 420.5,186.4C425.22,185.47 432.03,184.25 437.5,183.4C442.97,182.55 448.52,182.05 453.3,181.3C458.08,180.55 461.42,179.7 466.2,178.9C470.98,178.1 477.25,177.23 482,176.5C486.75,175.77 491.7,175.03 494.7,174.5C497.7,173.97 496.33,174.83 500,173.3C503.67,171.77 511.15,167.98 516.7,165.3C522.25,162.62 527.75,159.75 533.3,157.2C538.85,154.65 545.88,151.65 550,150C554.12,148.35 555.22,147.88 558,147.3C560.78,146.72 564.03,146.38 566.7,146.5C569.37,146.62 571.78,147.28 574,148C576.22,148.72 577.33,149.38 580,150.8C582.67,152.22 586.67,154.55 590,156.5C593.33,158.45 596.42,160.7 600,162.5C603.58,164.3 607.53,165.62 611.5,167.3C615.47,168.98 619.43,170.98 623.8,172.6C628.17,174.22 632.92,175.6 637.7,177C642.48,178.4 647.82,179.93 652.5,181C657.18,182.07 661.37,182.55 665.8,183.4C670.23,184.25 674.32,185.13 679.1,186.1C683.88,187.07 691.93,188.68 694.5,189.2" fill="none" stroke="#000" stroke-width="1.1" stroke-dasharray="1.1 2.4"/>
<path d="M409.2,189C411.08,188.53 415.78,187.2 420.5,186.2C425.22,185.2 432.03,183.9 437.5,183C442.97,182.1 448.52,181.6 453.3,180.8C458.08,180 461.42,179.08 466.2,178.2C470.98,177.32 477.25,176.37 482,175.5C486.75,174.63 491.7,173.72 494.7,173C497.7,172.28 496.33,172.97 500,171.2C503.67,169.43 511.15,165.23 516.7,162.4C522.25,159.57 528.58,156.43 533.3,154.2C538.02,151.97 541.72,150.27 545,149C548.28,147.73 550.5,147.07 553,146.6C555.5,146.13 557.67,146.07 560,146.2C562.33,146.33 564.5,146.68 567,147.4C569.5,148.12 572.83,149.48 575,150.5C577.17,151.52 577.5,152 580,153.5C582.5,155 586.67,157.53 590,159.5C593.33,161.47 596.42,163.58 600,165.3C603.58,167.02 607.53,168.35 611.5,169.8C615.47,171.25 619.43,172.67 623.8,174C628.17,175.33 632.92,176.53 637.7,177.8C642.48,179.07 647.82,180.57 652.5,181.6C657.18,182.63 661.37,183.18 665.8,184C670.23,184.82 674.32,185.6 679.1,186.5C683.88,187.4 691.93,188.92 694.5,189.4" fill="none" stroke="#000" stroke-width="1.1" stroke-dasharray="4 2.5"/>
<path d="M409.2,189C411.08,188.55 415.78,187.27 420.5,186.3C425.22,185.33 432.03,184.05 437.5,183.2C442.97,182.35 448.52,181.95 453.3,181.2C458.08,180.45 461.42,179.5 466.2,178.7C470.98,177.9 477.25,177.13 482,176.4C486.75,175.67 491.7,174.93 494.7,174.3C497.7,173.67 496.33,174.23 500,172.6C503.67,170.97 511.15,167.15 516.7,164.5C522.25,161.85 527.75,159.15 533.3,156.7C538.85,154.25 545.88,151.28 550,149.8C554.12,148.32 555.67,148.23 558,147.8C560.33,147.37 562,147.2 564,147.2C566,147.2 567.33,147.08 570,147.8C572.67,148.52 576.67,149.92 580,151.5C583.33,153.08 586.67,155.33 590,157.3C593.33,159.27 596.42,161.47 600,163.3C603.58,165.13 607.53,166.68 611.5,168.3C615.47,169.92 619.43,171.53 623.8,173C628.17,174.47 632.92,175.73 637.7,177.1C642.48,178.47 647.82,180.12 652.5,181.2C657.18,182.28 661.37,182.75 665.8,183.6C670.23,184.45 674.32,185.33 679.1,186.3C683.88,187.27 691.93,188.88 694.5,189.4" fill="none" stroke="#111" stroke-width="1.1"/>
<rect x="395.5" y="134.2" width="313" height="59.9" fill="none" stroke="#636363" stroke-width="1"/>
<rect x="708.5" y="134.2" width="17" height="59.9" fill="#d9d9d9" stroke="#636363" stroke-width="1"/>
<text x="0" y="0" transform="translate(717,164.15) rotate(90)" text-anchor="middle" font-family='"Liberation Sans", sans-serif' font-size="11.5" fill="#1a1a1a" dy="4.7">Fridays</text>
<line x1="393" y1="191" x2="395.5" y2="191" stroke="#333" stroke-width="0.8"/>
<text x="391.3" y="193.95" text-anchor="end" font-family='"Liberation Sans", sans-serif' font-size="6.6" fill="#4d4d4d">0</text>
<line x1="393" y1="171.8" x2="395.5" y2="171.8" stroke="#333" stroke-width="0.8"/>
<text x="391.3" y="174.75" text-anchor="end" font-family='"Liberation Sans", sans-serif' font-size="6.6" fill="#4d4d4d">2</text>
<line x1="393" y1="152.6" x2="395.5" y2="152.6" stroke="#333" stroke-width="0.8"/>
<text x="391.3" y="155.55" text-anchor="end" font-family='"Liberation Sans", sans-serif' font-size="6.6" fill="#4d4d4d">4</text>
<line x1="395.5" y1="245" x2="708.5" y2="245" stroke="#f4f4f4" stroke-width="0.6"/>
<line x1="395.5" y1="225.8" x2="708.5" y2="225.8" stroke="#f4f4f4" stroke-width="0.6"/>
<line x1="395.5" y1="206.6" x2="708.5" y2="206.6" stroke="#f4f4f4" stroke-width="0.6"/>
<line x1="437.9" y1="197.8" x2="437.9" y2="257.7" stroke="#f4f4f4" stroke-width="0.6"/>
<line x1="494.9" y1="197.8" x2="494.9" y2="257.7" stroke="#f4f4f4" stroke-width="0.6"/>
<line x1="551.9" y1="197.8" x2="551.9" y2="257.7" stroke="#f4f4f4" stroke-width="0.6"/>
<line x1="608.9" y1="197.8" x2="608.9" y2="257.7" stroke="#f4f4f4" stroke-width="0.6"/>
<line x1="665.9" y1="197.8" x2="665.9" y2="257.7" stroke="#f4f4f4" stroke-width="0.6"/>
<line x1="395.5" y1="254.6" x2="708.5" y2="254.6" stroke="#ebebeb" stroke-width="0.9"/>
<line x1="395.5" y1="235.4" x2="708.5" y2="235.4" stroke="#ebebeb" stroke-width="0.9"/>
<line x1="395.5" y1="216.2" x2="708.5" y2="216.2" stroke="#ebebeb" stroke-width="0.9"/>
<line x1="409.4" y1="197.8" x2="409.4" y2="257.7" stroke="#ebebeb" stroke-width="0.9"/>
<line x1="466.4" y1="197.8" x2="466.4" y2="257.7" stroke="#ebebeb" stroke-width="0.9"/>
<line x1="523.4" y1="197.8" x2="523.4" y2="257.7" stroke="#ebebeb" stroke-width="0.9"/>
<line x1="580.4" y1="197.8" x2="580.4" y2="257.7" stroke="#ebebeb" stroke-width="0.9"/>
<line x1="637.4" y1="197.8" x2="637.4" y2="257.7" stroke="#ebebeb" stroke-width="0.9"/>
<line x1="694.4" y1="197.8" x2="694.4" y2="257.7" stroke="#ebebeb" stroke-width="0.9"/>
<path d="M409.2,252.4C411.08,251.82 415.78,249.87 420.5,248.9C425.22,247.93 432.03,247.28 437.5,246.6C442.97,245.92 448.52,245.45 453.3,244.8C458.08,244.15 461.42,243.6 466.2,242.7C470.98,241.8 477.25,240.35 482,239.4C486.75,238.45 490.87,238.12 494.7,237C498.53,235.88 501.9,234.4 505,232.7C508.1,231 510.97,228.37 513.3,226.8C515.63,225.23 517.22,224.03 519,223.3C520.78,222.57 522.25,222.53 524,222.4C525.75,222.27 527.58,222.27 529.5,222.5C531.42,222.73 533.2,223.52 535.5,223.8C537.8,224.08 540.88,224.33 543.3,224.2C545.72,224.07 548.05,223.5 550,223C551.95,222.5 553.3,221.82 555,221.2C556.7,220.58 557.62,219.92 560.2,219.3C562.78,218.68 567.08,217.63 570.5,217.5C573.92,217.37 577.28,217.82 580.7,218.5C584.12,219.18 587.58,220.4 591,221.6C594.42,222.8 597.78,224.33 601.2,225.7C604.62,227.07 607.73,228.27 611.5,229.8C615.27,231.33 619.43,233.43 623.8,234.9C628.17,236.37 632.92,237.57 637.7,238.6C642.48,239.63 648.33,240.42 652.5,241.1C656.67,241.78 659.28,241.85 662.7,242.7C666.12,243.55 669.58,245.03 673,246.2C676.42,247.37 679.62,248.67 683.2,249.7C686.78,250.73 692.62,251.95 694.5,252.4L694.5,254.6L409.2,254.6Z" fill="#00B0F6" fill-opacity="0.26"/>
<path d="M409.2,252.4C411.08,251.83 415.78,249.95 420.5,249C425.22,248.05 432.03,247.43 437.5,246.7C442.97,245.97 448.52,245.33 453.3,244.6C458.08,243.87 461.42,243.23 466.2,242.3C470.98,241.37 477.25,239.98 482,239C486.75,238.02 490.27,237.4 494.7,236.4C499.13,235.4 504.72,234.18 508.6,233C512.48,231.82 514.43,230.6 518,229.3C521.57,228 526.62,226.78 530,225.2C533.38,223.62 535.52,221.33 538.3,219.8C541.08,218.27 543.92,217.18 546.7,216C549.48,214.82 552.23,213.48 555,212.7C557.77,211.92 560.72,211.45 563.3,211.3C565.88,211.15 567.6,211.1 570.5,211.8C573.4,212.5 577.28,214.2 580.7,215.5C584.12,216.8 587.58,218.07 591,219.6C594.42,221.13 597.78,222.83 601.2,224.7C604.62,226.57 607.73,228.82 611.5,230.8C615.27,232.78 619.43,234.88 623.8,236.6C628.17,238.32 632.92,239.73 637.7,241.1C642.48,242.47 647.82,243.72 652.5,244.8C657.18,245.88 661.37,246.68 665.8,247.6C670.23,248.52 674.32,249.4 679.1,250.3C683.88,251.2 691.93,252.55 694.5,253L694.5,254.6L409.2,254.6Z" fill="#00B0F6" fill-opacity="0.26"/>
<path d="M409.2,252.4C411.08,251.83 415.78,249.93 420.5,249C425.22,248.07 432.03,247.5 437.5,246.8C442.97,246.1 448.52,245.5 453.3,244.8C458.08,244.1 461.42,243.5 466.2,242.6C470.98,241.7 477.25,240.4 482,239.4C486.75,238.4 490.27,237.63 494.7,236.6C499.13,235.57 503.82,234.72 508.6,233.2C513.38,231.68 518.17,229.53 523.4,227.5C528.63,225.47 535.02,223.05 540,221C544.98,218.95 549.47,216.65 553.3,215.2C557.13,213.75 560.13,212.9 563,212.3C565.87,211.7 567.55,211.32 570.5,211.6C573.45,211.88 577.28,212.83 580.7,214C584.12,215.17 587.58,216.93 591,218.6C594.42,220.27 597.78,222.1 601.2,224C604.62,225.9 607.73,228.03 611.5,230C615.27,231.97 619.43,234.05 623.8,235.8C628.17,237.55 632.92,239.07 637.7,240.5C642.48,241.93 647.82,243.27 652.5,244.4C657.18,245.53 661.37,246.37 665.8,247.3C670.23,248.23 674.32,249.08 679.1,250C683.88,250.92 691.93,252.33 694.5,252.8L694.5,254.6L409.2,254.6Z" fill="#00B0F6" fill-opacity="0.26"/>
<path d="M409.2,252.4C411.08,251.83 415.78,249.93 420.5,249C425.22,248.07 432.03,247.5 437.5,246.8C442.97,246.1 448.52,245.5 453.3,244.8C458.08,244.1 461.42,243.5 466.2,242.6C470.98,241.7 477.25,240.4 482,239.4C486.75,238.4 490.27,237.63 494.7,236.6C499.13,235.57 503.82,234.72 508.6,233.2C513.38,231.68 518.17,229.53 523.4,227.5C528.63,225.47 535.02,223.05 540,221C544.98,218.95 549.47,216.65 553.3,215.2C557.13,213.75 560.13,212.9 563,212.3C565.87,211.7 567.55,211.32 570.5,211.6C573.45,211.88 577.28,212.83 580.7,214C584.12,215.17 587.58,216.93 591,218.6C594.42,220.27 597.78,222.1 601.2,224C604.62,225.9 607.73,228.03 611.5,230C615.27,231.97 619.43,234.05 623.8,235.8C628.17,237.55 632.92,239.07 637.7,240.5C642.48,241.93 647.82,243.27 652.5,244.4C657.18,245.53 661.37,246.37 665.8,247.3C670.23,248.23 674.32,249.08 679.1,250C683.88,250.92 691.93,252.33 694.5,252.8" fill="none" stroke="#000" stroke-width="1.1" stroke-dasharray="1.1 2.4"/>
<path d="M409.2,252.4C411.08,251.83 415.78,249.95 420.5,249C425.22,248.05 432.03,247.43 437.5,246.7C442.97,245.97 448.52,245.33 453.3,244.6C458.08,243.87 461.42,243.23 466.2,242.3C470.98,241.37 477.25,239.98 482,239C486.75,238.02 490.27,237.4 494.7,236.4C499.13,235.4 504.72,234.18 508.6,233C512.48,231.82 514.43,230.6 518,229.3C521.57,228 526.62,226.78 530,225.2C533.38,223.62 535.52,221.33 538.3,219.8C541.08,218.27 543.92,217.18 546.7,216C549.48,214.82 552.23,213.48 555,212.7C557.77,211.92 560.72,211.45 563.3,211.3C565.88,211.15 567.6,211.1 570.5,211.8C573.4,212.5 577.28,214.2 580.7,215.5C584.12,216.8 587.58,218.07 591,219.6C594.42,221.13 597.78,222.83 601.2,224.7C604.62,226.57 607.73,228.82 611.5,230.8C615.27,232.78 619.43,234.88 623.8,236.6C628.17,238.32 632.92,239.73 637.7,241.1C642.48,242.47 647.82,243.72 652.5,244.8C657.18,245.88 661.37,246.68 665.8,247.6C670.23,248.52 674.32,249.4 679.1,250.3C683.88,251.2 691.93,252.55 694.5,253" fill="none" stroke="#000" stroke-width="1.1" stroke-dasharray="4 2.5"/>
<path d="M409.2,252.4C411.08,251.82 415.78,249.87 420.5,248.9C425.22,247.93 432.03,247.28 437.5,246.6C442.97,245.92 448.52,245.45 453.3,244.8C458.08,244.15 461.42,243.6 466.2,242.7C470.98,241.8 477.25,240.35 482,239.4C486.75,238.45 490.87,238.12 494.7,237C498.53,235.88 501.9,234.4 505,232.7C508.1,231 510.97,228.37 513.3,226.8C515.63,225.23 517.22,224.03 519,223.3C520.78,222.57 522.25,222.53 524,222.4C525.75,222.27 527.58,222.27 529.5,222.5C531.42,222.73 533.2,223.52 535.5,223.8C537.8,224.08 540.88,224.33 543.3,224.2C545.72,224.07 548.05,223.5 550,223C551.95,222.5 553.3,221.82 555,221.2C556.7,220.58 557.62,219.92 560.2,219.3C562.78,218.68 567.08,217.63 570.5,217.5C573.92,217.37 577.28,217.82 580.7,218.5C584.12,219.18 587.58,220.4 591,221.6C594.42,222.8 597.78,224.33 601.2,225.7C604.62,227.07 607.73,228.27 611.5,229.8C615.27,231.33 619.43,233.43 623.8,234.9C628.17,236.37 632.92,237.57 637.7,238.6C642.48,239.63 648.33,240.42 652.5,241.1C656.67,241.78 659.28,241.85 662.7,242.7C666.12,243.55 669.58,245.03 673,246.2C676.42,247.37 679.62,248.67 683.2,249.7C686.78,250.73 692.62,251.95 694.5,252.4" fill="none" stroke="#111" stroke-width="1.1"/>
<rect x="395.5" y="197.8" width="313" height="59.9" fill="none" stroke="#636363" stroke-width="1"/>
<rect x="708.5" y="197.8" width="17" height="59.9" fill="#d9d9d9" stroke="#636363" stroke-width="1"/>
<text x="0" y="0" transform="translate(717,227.75) rotate(90)" text-anchor="middle" font-family='"Liberation Sans", sans-serif' font-size="11.5" fill="#1a1a1a" dy="4.7">Saturdays</text>
<line x1="393" y1="254.6" x2="395.5" y2="254.6" stroke="#333" stroke-width="0.8"/>
<text x="391.3" y="257.55" text-anchor="end" font-family='"Liberation Sans", sans-serif' font-size="6.6" fill="#4d4d4d">0</text>
<line x1="393" y1="235.4" x2="395.5" y2="235.4" stroke="#333" stroke-width="0.8"/>
<text x="391.3" y="238.35" text-anchor="end" font-family='"Liberation Sans", sans-serif' font-size="6.6" fill="#4d4d4d">2</text>
<line x1="393" y1="216.2" x2="395.5" y2="216.2" stroke="#333" stroke-width="0.8"/>
<text x="391.3" y="219.15" text-anchor="end" font-family='"Liberation Sans", sans-serif' font-size="6.6" fill="#4d4d4d">4</text>
<line x1="395.5" y1="309.3" x2="708.5" y2="309.3" stroke="#f4f4f4" stroke-width="0.6"/>
<line x1="395.5" y1="290.1" x2="708.5" y2="290.1" stroke="#f4f4f4" stroke-width="0.6"/>
<line x1="395.5" y1="270.9" x2="708.5" y2="270.9" stroke="#f4f4f4" stroke-width="0.6"/>
<line x1="437.9" y1="262.1" x2="437.9" y2="322" stroke="#f4f4f4" stroke-width="0.6"/>
<line x1="494.9" y1="262.1" x2="494.9" y2="322" stroke="#f4f4f4" stroke-width="0.6"/>
<line x1="551.9" y1="262.1" x2="551.9" y2="322" stroke="#f4f4f4" stroke-width="0.6"/>
<line x1="608.9" y1="262.1" x2="608.9" y2="322" stroke="#f4f4f4" stroke-width="0.6"/>
<line x1="665.9" y1="262.1" x2="665.9" y2="322" stroke="#f4f4f4" stroke-width="0.6"/>
<line x1="395.5" y1="318.9" x2="708.5" y2="318.9" stroke="#ebebeb" stroke-width="0.9"/>
<line x1="395.5" y1="299.7" x2="708.5" y2="299.7" stroke="#ebebeb" stroke-width="0.9"/>
<line x1="395.5" y1="280.5" x2="708.5" y2="280.5" stroke="#ebebeb" stroke-width="0.9"/>
<line x1="409.4" y1="262.1" x2="409.4" y2="322" stroke="#ebebeb" stroke-width="0.9"/>
<line x1="466.4" y1="262.1" x2="466.4" y2="322" stroke="#ebebeb" stroke-width="0.9"/>
<line x1="523.4" y1="262.1" x2="523.4" y2="322" stroke="#ebebeb" stroke-width="0.9"/>
<line x1="580.4" y1="262.1" x2="580.4" y2="322" stroke="#ebebeb" stroke-width="0.9"/>
<line x1="637.4" y1="262.1" x2="637.4" y2="322" stroke="#ebebeb" stroke-width="0.9"/>
<line x1="694.4" y1="262.1" x2="694.4" y2="322" stroke="#ebebeb" stroke-width="0.9"/>
<path d="M409.2,316.4C411.08,315.82 415.78,313.87 420.5,312.9C425.22,311.93 432.03,311.28 437.5,310.6C442.97,309.92 448.52,309.3 453.3,308.8C458.08,308.3 461.42,307.97 466.2,307.6C470.98,307.23 477.25,307.1 482,306.6C486.75,306.1 491.62,305.32 494.7,304.6C497.78,303.88 498.78,303.32 500.5,302.3C502.22,301.28 503.58,300.38 505,298.5C506.42,296.62 507.37,294.68 509,291C510.63,287.32 512.98,280.37 514.8,276.4C516.62,272.43 518.47,269.18 519.9,267.2C521.33,265.22 522.22,264.6 523.4,264.5C524.58,264.4 525.37,264.62 527,266.6C528.63,268.58 531.15,273.07 533.2,276.4C535.25,279.73 537.25,284.03 539.3,286.6C541.35,289.17 543.72,290.77 545.5,291.8C547.28,292.83 547.2,292.98 550,292.8C552.8,292.62 558.88,291.38 562.3,290.7C565.72,290.02 567.43,289.1 570.5,288.7C573.57,288.3 577.28,288.13 580.7,288.3C584.12,288.47 587.58,288.95 591,289.7C594.42,290.45 597.78,291.67 601.2,292.8C604.62,293.93 607.73,295.2 611.5,296.5C615.27,297.8 619.7,299.45 623.8,300.6C627.9,301.75 632,302.72 636.1,303.4C640.2,304.08 644.98,304.7 648.4,304.7C651.82,304.7 653.87,303.68 656.6,303.4C659.33,303.12 662.07,302.45 664.8,303C667.53,303.55 669.93,305.05 673,306.7C676.07,308.35 679.62,311.28 683.2,312.9C686.78,314.52 692.62,315.82 694.5,316.4L694.5,318.9L409.2,318.9Z" fill="#E76BF3" fill-opacity="0.26"/>
<path d="M409.2,316.4C413.92,315.43 428,312.08 437.5,310.6C447,309.12 458.78,308.58 466.2,307.5C473.62,306.42 477.25,305.18 482,304.1C486.75,303.02 490.27,302.2 494.7,301C499.13,299.8 503.82,298.27 508.6,296.9C513.38,295.53 518.97,294.33 523.4,292.8C527.83,291.27 530.77,289.75 535.2,287.7C539.63,285.65 546.17,282.38 550,280.5C553.83,278.62 555.47,277.43 558.2,276.4C560.93,275.37 563.33,274.3 566.4,274.3C569.47,274.3 573.18,275.03 576.6,276.4C580.02,277.77 583.48,280.28 586.9,282.5C590.32,284.72 593.68,287.82 597.1,289.7C600.52,291.58 603.63,292.27 607.4,293.8C611.17,295.33 615.6,297.37 619.7,298.9C623.8,300.43 627.9,301.7 632,303C636.1,304.3 639.87,305.5 644.3,306.7C648.73,307.9 653.82,309.27 658.6,310.2C663.38,311.13 668.9,311.72 673,312.3C677.1,312.88 679.62,313.02 683.2,313.7C686.78,314.38 692.62,315.95 694.5,316.4L694.5,318.9L409.2,318.9Z" fill="#E76BF3" fill-opacity="0.26"/>
<path d="M409.2,316.4C413.92,315.43 428,312.12 437.5,310.6C447,309.08 458.78,308.42 466.2,307.3C473.62,306.18 477.25,304.98 482,303.9C486.75,302.82 490.27,302.02 494.7,300.8C499.13,299.58 503.82,298.02 508.6,296.6C513.38,295.18 518.97,293.9 523.4,292.3C527.83,290.7 530.77,289 535.2,287C539.63,285 546.17,282.08 550,280.3C553.83,278.52 555.2,277.35 558.2,276.3C561.2,275.25 564.7,274.05 568,274C571.3,273.95 574.85,274.75 578,276C581.15,277.25 583.72,279.42 586.9,281.5C590.08,283.58 593.68,286.55 597.1,288.5C600.52,290.45 603.63,291.53 607.4,293.2C611.17,294.87 615.6,296.92 619.7,298.5C623.8,300.08 627.9,301.38 632,302.7C636.1,304.02 639.87,305.22 644.3,306.4C648.73,307.58 653.82,308.87 658.6,309.8C663.38,310.73 668.9,311.38 673,312C677.1,312.62 679.62,312.8 683.2,313.5C686.78,314.2 692.62,315.75 694.5,316.2L694.5,318.9L409.2,318.9Z" fill="#E76BF3" fill-opacity="0.26"/>
<path d="M409.2,316.4C413.92,315.43 428,312.12 437.5,310.6C447,309.08 458.78,308.42 466.2,307.3C473.62,306.18 477.25,304.98 482,303.9C486.75,302.82 490.27,302.02 494.7,300.8C499.13,299.58 503.82,298.02 508.6,296.6C513.38,295.18 518.97,293.9 523.4,292.3C527.83,290.7 530.77,289 535.2,287C539.63,285 546.17,282.08 550,280.3C553.83,278.52 555.2,277.35 558.2,276.3C561.2,275.25 564.7,274.05 568,274C571.3,273.95 574.85,274.75 578,276C581.15,277.25 583.72,279.42 586.9,281.5C590.08,283.58 593.68,286.55 597.1,288.5C600.52,290.45 603.63,291.53 607.4,293.2C611.17,294.87 615.6,296.92 619.7,298.5C623.8,300.08 627.9,301.38 632,302.7C636.1,304.02 639.87,305.22 644.3,306.4C648.73,307.58 653.82,308.87 658.6,309.8C663.38,310.73 668.9,311.38 673,312C677.1,312.62 679.62,312.8 683.2,313.5C686.78,314.2 692.62,315.75 694.5,316.2" fill="none" stroke="#000" stroke-width="1.1" stroke-dasharray="1.1 2.4"/>
<path d="M409.2,316.4C413.92,315.43 428,312.08 437.5,310.6C447,309.12 458.78,308.58 466.2,307.5C473.62,306.42 477.25,305.18 482,304.1C486.75,303.02 490.27,302.2 494.7,301C499.13,299.8 503.82,298.27 508.6,296.9C513.38,295.53 518.97,294.33 523.4,292.8C527.83,291.27 530.77,289.75 535.2,287.7C539.63,285.65 546.17,282.38 550,280.5C553.83,278.62 555.47,277.43 558.2,276.4C560.93,275.37 563.33,274.3 566.4,274.3C569.47,274.3 573.18,275.03 576.6,276.4C580.02,277.77 583.48,280.28 586.9,282.5C590.32,284.72 593.68,287.82 597.1,289.7C600.52,291.58 603.63,292.27 607.4,293.8C611.17,295.33 615.6,297.37 619.7,298.9C623.8,300.43 627.9,301.7 632,303C636.1,304.3 639.87,305.5 644.3,306.7C648.73,307.9 653.82,309.27 658.6,310.2C663.38,311.13 668.9,311.72 673,312.3C677.1,312.88 679.62,313.02 683.2,313.7C686.78,314.38 692.62,315.95 694.5,316.4" fill="none" stroke="#000" stroke-width="1.1" stroke-dasharray="4 2.5"/>
<path d="M409.2,316.4C411.08,315.82 415.78,313.87 420.5,312.9C425.22,311.93 432.03,311.28 437.5,310.6C442.97,309.92 448.52,309.3 453.3,308.8C458.08,308.3 461.42,307.97 466.2,307.6C470.98,307.23 477.25,307.1 482,306.6C486.75,306.1 491.62,305.32 494.7,304.6C497.78,303.88 498.78,303.32 500.5,302.3C502.22,301.28 503.58,300.38 505,298.5C506.42,296.62 507.37,294.68 509,291C510.63,287.32 512.98,280.37 514.8,276.4C516.62,272.43 518.47,269.18 519.9,267.2C521.33,265.22 522.22,264.6 523.4,264.5C524.58,264.4 525.37,264.62 527,266.6C528.63,268.58 531.15,273.07 533.2,276.4C535.25,279.73 537.25,284.03 539.3,286.6C541.35,289.17 543.72,290.77 545.5,291.8C547.28,292.83 547.2,292.98 550,292.8C552.8,292.62 558.88,291.38 562.3,290.7C565.72,290.02 567.43,289.1 570.5,288.7C573.57,288.3 577.28,288.13 580.7,288.3C584.12,288.47 587.58,288.95 591,289.7C594.42,290.45 597.78,291.67 601.2,292.8C604.62,293.93 607.73,295.2 611.5,296.5C615.27,297.8 619.7,299.45 623.8,300.6C627.9,301.75 632,302.72 636.1,303.4C640.2,304.08 644.98,304.7 648.4,304.7C651.82,304.7 653.87,303.68 656.6,303.4C659.33,303.12 662.07,302.45 664.8,303C667.53,303.55 669.93,305.05 673,306.7C676.07,308.35 679.62,311.28 683.2,312.9C686.78,314.52 692.62,315.82 694.5,316.4" fill="none" stroke="#111" stroke-width="1.1"/>
<rect x="395.5" y="262.1" width="313" height="59.9" fill="none" stroke="#636363" stroke-width="1"/>
<rect x="708.5" y="262.1" width="17" height="59.9" fill="#d9d9d9" stroke="#636363" stroke-width="1"/>
<text x="0" y="0" transform="translate(717,292.05) rotate(90)" text-anchor="middle" font-family='"Liberation Sans", sans-serif' font-size="11.5" fill="#1a1a1a" dy="4.7">Sundays</text>
<line x1="393" y1="318.9" x2="395.5" y2="318.9" stroke="#333" stroke-width="0.8"/>
<text x="391.3" y="321.85" text-anchor="end" font-family='"Liberation Sans", sans-serif' font-size="6.6" fill="#4d4d4d">0</text>
<line x1="393" y1="299.7" x2="395.5" y2="299.7" stroke="#333" stroke-width="0.8"/>
<text x="391.3" y="302.65" text-anchor="end" font-family='"Liberation Sans", sans-serif' font-size="6.6" fill="#4d4d4d">2</text>
<line x1="393" y1="280.5" x2="395.5" y2="280.5" stroke="#333" stroke-width="0.8"/>
<text x="391.3" y="283.45" text-anchor="end" font-family='"Liberation Sans", sans-serif' font-size="6.6" fill="#4d4d4d">4</text>
<line x1="409.4" y1="322" x2="409.4" y2="324" stroke="#333" stroke-width="0.8"/>
<text x="409.4" y="331.7" text-anchor="middle" font-family='"Liberation Sans", sans-serif' font-size="6.6" fill="#4d4d4d">-0.2</text>
<line x1="466.4" y1="322" x2="466.4" y2="324" stroke="#333" stroke-width="0.8"/>
<text x="466.4" y="331.7" text-anchor="middle" font-family='"Liberation Sans", sans-serif' font-size="6.6" fill="#4d4d4d">-0.1</text>
<line x1="523.4" y1="322" x2="523.4" y2="324" stroke="#333" stroke-width="0.8"/>
<text x="523.4" y="331.7" text-anchor="middle" font-family='"Liberation Sans", sans-serif' font-size="6.6" fill="#4d4d4d">0.0</text>
<line x1="580.4" y1="322" x2="580.4" y2="324" stroke="#333" stroke-width="0.8"/>
<text x="580.4" y="331.7" text-anchor="middle" font-family='"Liberation Sans", sans-serif' font-size="6.6" fill="#4d4d4d">0.1</text>
<line x1="637.4" y1="322" x2="637.4" y2="324" stroke="#333" stroke-width="0.8"/>
<text x="637.4" y="331.7" text-anchor="middle" font-family='"Liberation Sans", sans-serif' font-size="6.6" fill="#4d4d4d">0.2</text>
<line x1="694.4" y1="322" x2="694.4" y2="324" stroke="#333" stroke-width="0.8"/>
<text x="694.4" y="331.7" text-anchor="middle" font-family='"Liberation Sans", sans-serif' font-size="6.6" fill="#4d4d4d">0.3</text>
<text x="506.2" y="346.8" font-family='"Liberation Sans", sans-serif' font-size="11.5" fill="#1a1a1a">Vehicle jerk, m<tspan dx="0.8">/</tspan><tspan dx="0.8">s</tspan><tspan font-size="8" dy="-5">3</tspan></text>
<text x="0" y="0" transform="translate(384,163.5) rotate(-90)" text-anchor="middle" font-family='"Liberation Sans", sans-serif' font-size="11.8" fill="#1a1a1a">Density</text>
<text x="177.5" y="377.5" text-anchor="middle" font-family='"Liberation Sans", sans-serif' font-size="16" fill="#000">(a)</text>
<text x="548.5" y="376.5" text-anchor="middle" font-family='"Liberation Sans", sans-serif' font-size="16" fill="#000">(b)</text>
</svg>
</body></html>
